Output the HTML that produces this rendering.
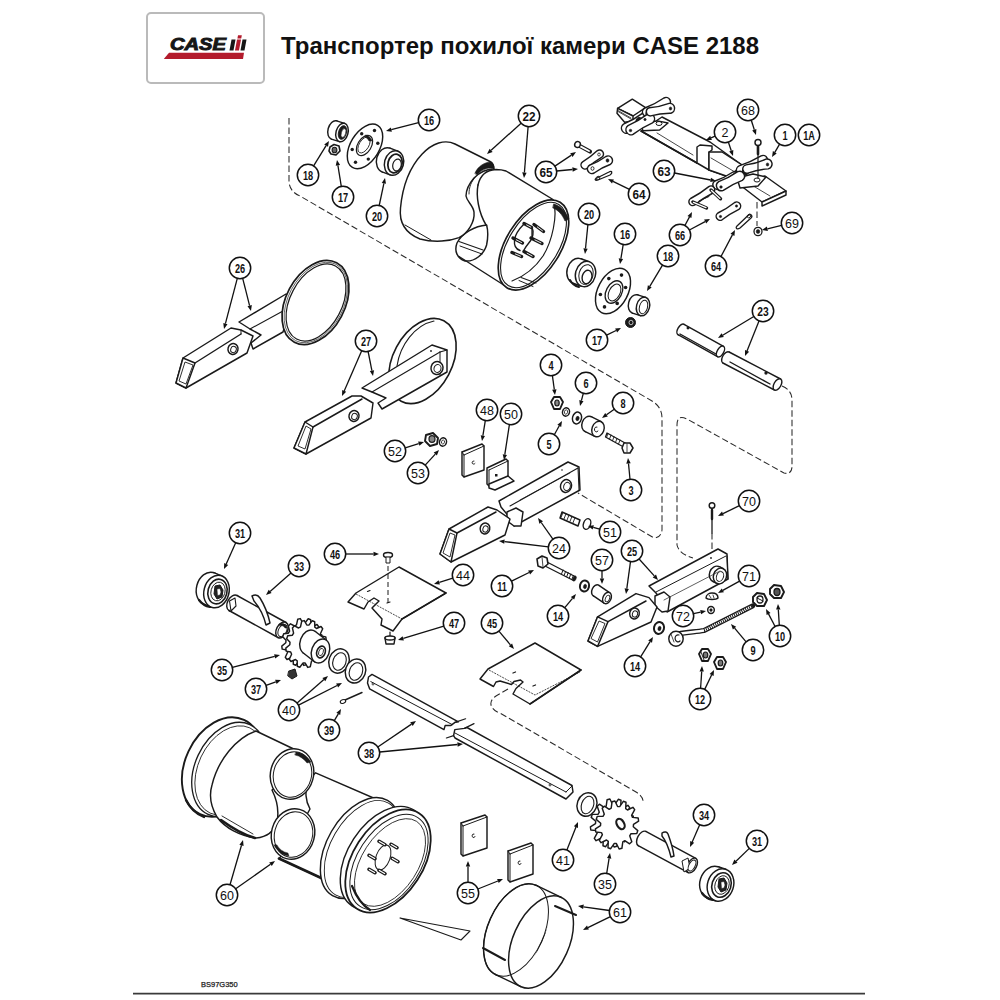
<!DOCTYPE html>
<html><head><meta charset="utf-8"><style>
html,body{margin:0;padding:0;background:#fff;}
body{width:1000px;height:1000px;position:relative;overflow:hidden;font-family:"Liberation Sans",sans-serif;}
.logo{position:absolute;left:146px;top:12px;width:114.5px;height:67.5px;border:2px solid #bababa;border-radius:5px;background:#fff;}
svg{position:absolute;left:0;top:0;}
.lbl text{font-family:"Liberation Sans",sans-serif;text-anchor:middle;}
.lbl .r{font-size:12.5px;font-weight:normal;}
.lbl .b{font-size:13.5px;font-weight:bold;}
.lbl .w{font-size:12.8px;font-weight:bold;}
.lbl .c{font-size:13.5px;font-weight:bold;}
</style></head><body>
<div class="logo"></div>
<svg width="1000" height="1000" viewBox="0 0 1000 1000">
<text id="title" x="281" y="53.5" font-family="Liberation Sans" font-weight="bold" font-size="24" fill="#111" textLength="478" lengthAdjust="spacingAndGlyphs">Транспортер похилої камери CASE 2188</text>
<g id="logo">
<text x="170" y="50.4" font-family="Liberation Sans" font-weight="bold" font-style="italic" font-size="16" fill="#161616" stroke="#161616" stroke-width="0.9" textLength="56" lengthAdjust="spacingAndGlyphs">CASE</text>
<polygon points="169,52.8 244,52.8 243,59 163.8,59" fill="#b31b2c"/>
<polygon points="231.5,39.5 235.5,39.5 233.5,50.4 229.5,50.4" fill="#161616"/>
<polygon points="237,39.5 241,39.5 239,50.4 235,50.4" fill="#b31b2c"/>
<polygon points="238,35.2 241.8,35.2 241.2,38.6 237.4,38.6" fill="#b31b2c"/>
<polygon points="242.5,39.5 246.5,39.5 244.5,50.4 240.5,50.4" fill="#161616"/>
</g>
<g fill="none" stroke="#2a2a2a" stroke-width="1.05" stroke-dasharray="6.5 3">
<path d="M289,118 L289,182 Q290,192 300,196 L652,401 Q662,407 662,418 L662,530 Q661,538 654,538 L578,493"/>
<path d="M782,386 Q792,390 792,400 L792,466 Q792,475 784,473 L687,419 Q677,414 677,425 L677,545 Q679,554 693,558"/>
<path d="M508,689 L496,696 Q490,700 491,705 Q493,711 500,713 L636,792 Q644,797 643,803"/>
<path d="M757,202 L757,226"/>
<path d="M712,533 L712,556"/>
</g>
<ellipse cx="334.0" cy="130.0" rx="6.0" ry="9.5" transform="rotate(15 334.0 130.0)" fill="#fff" stroke="#1a1a1a" stroke-width="1.45" /><polygon points="336.6,120.9 344.6,123.4 339.4,141.6 331.4,139.1" fill="#fff" stroke="none"/><line x1="336.6" y1="120.9" x2="344.6" y2="123.4" stroke="#1a1a1a" stroke-width="1.45" stroke-linecap="round"/><line x1="331.4" y1="139.1" x2="339.4" y2="141.6" stroke="#1a1a1a" stroke-width="1.45" stroke-linecap="round"/><ellipse cx="342.0" cy="132.5" rx="6.0" ry="9.5" transform="rotate(15 342.0 132.5)" fill="#fff" stroke="#1a1a1a" stroke-width="1.45" />
<ellipse cx="342.5" cy="132.5" rx="4.0" ry="7.0" transform="rotate(15 342.5 132.5)" fill="#1a1a1a" stroke="#1a1a1a" stroke-width="0.8" />
<ellipse cx="343.5" cy="133.0" rx="2.2" ry="4.5" transform="rotate(15 343.5 133.0)" fill="#fff" stroke="#1a1a1a" stroke-width="0.6" />
<polygon points="330.0,147.0 334.0,144.5 339.0,146.0 340.0,151.0 336.0,155.0 331.0,154.0 329.0,151.0" fill="#fff" stroke="#1a1a1a" stroke-width="1.6" stroke-linejoin="round"/>
<ellipse cx="334.5" cy="150.0" rx="2.4" ry="2.8" transform="rotate(0 334.5 150.0)" fill="#666" stroke="#1a1a1a" stroke-width="1.1" />
<ellipse cx="365.0" cy="146.4" rx="14.5" ry="24.5" transform="rotate(31 365.0 146.4)" fill="#fff" stroke="#1a1a1a" stroke-width="1.45" />
<ellipse cx="364.5" cy="145.5" rx="6.8" ry="11.0" transform="rotate(31 364.5 145.5)" fill="#fff" stroke="#1a1a1a" stroke-width="1.2" />
<ellipse cx="364.0" cy="145.0" rx="4.8" ry="8.8" transform="rotate(31 364.0 145.0)" fill="none" stroke="#1a1a1a" stroke-width="0.8" />
<path d="M366,135 C369,136 371,138 372,141 L369,141 C368,139 367,138 365,137 Z" fill="#1a1a1a" stroke="#1a1a1a" stroke-width="0.5" stroke-linejoin="round" stroke-linecap="round" />
<circle cx="355.5" cy="162.3" r="1.7" fill="#1a1a1a"/>
<circle cx="352.2" cy="149.5" r="1.7" fill="#1a1a1a"/>
<circle cx="361.7" cy="133.7" r="1.7" fill="#1a1a1a"/>
<circle cx="374.5" cy="130.5" r="1.7" fill="#1a1a1a"/>
<circle cx="377.8" cy="143.3" r="1.7" fill="#1a1a1a"/>
<circle cx="368.3" cy="159.1" r="1.7" fill="#1a1a1a"/>
<ellipse cx="386.0" cy="160.0" rx="9.5" ry="12.5" transform="rotate(15 386.0 160.0)" fill="#fff" stroke="#1a1a1a" stroke-width="1.45" /><polygon points="389.9,148.1 397.9,151.1 390.1,174.9 382.1,171.9" fill="#fff" stroke="none"/><line x1="389.9" y1="148.1" x2="397.9" y2="151.1" stroke="#1a1a1a" stroke-width="1.45" stroke-linecap="round"/><line x1="382.1" y1="171.9" x2="390.1" y2="174.9" stroke="#1a1a1a" stroke-width="1.45" stroke-linecap="round"/><ellipse cx="394.0" cy="163.0" rx="9.5" ry="12.5" transform="rotate(15 394.0 163.0)" fill="#fff" stroke="#1a1a1a" stroke-width="1.45" />
<ellipse cx="395.0" cy="163.5" rx="7.0" ry="9.5" transform="rotate(15 395.0 163.5)" fill="none" stroke="#1a1a1a" stroke-width="1.8" />
<ellipse cx="397.0" cy="165.0" rx="4.2" ry="6.0" transform="rotate(15 397.0 165.0)" fill="#fff" stroke="#1a1a1a" stroke-width="1.2" />
<path d="M496,169.5 L553,200.5 L572,232 L556,270 L510,289 L459,256.5 L457,242 L470,231 L486.6,225 L481,214 L477,198 L478,185 C480,176 486,170 496,169.5 Z" fill="#fff" stroke="#1a1a1a" stroke-width="0" stroke-linejoin="round" stroke-linecap="round" />
<path d="M478,185 C480,176 486,170 496,169.5 C500,169.5 503,170 506,171 L553,199.5" fill="none" stroke="#1a1a1a" stroke-width="1.45" stroke-linejoin="round" stroke-linecap="round" />
<path d="M478,185 C476,195 478,212 486.6,226" fill="none" stroke="#1a1a1a" stroke-width="1.45" stroke-linejoin="round" stroke-linecap="round" />
<path d="M486.6,225 C475,226 462,233 457,243 C454,251 457,258 465,261 C475,262 484,254 486.6,245 C488,238 488,230 486.6,225 Z" fill="#fff" stroke="#1a1a1a" stroke-width="1.45" stroke-linejoin="round" stroke-linecap="round" />
<line x1="459.0" y1="241.5" x2="483.0" y2="250.0" stroke="#1a1a1a" stroke-width="1.1" stroke-linecap="round"/>
<line x1="460.0" y1="246.0" x2="482.0" y2="254.0" stroke="#1a1a1a" stroke-width="1.0" stroke-linecap="round"/>
<line x1="459.0" y1="256.5" x2="510.0" y2="289.0" stroke="#1a1a1a" stroke-width="1.45" stroke-linecap="round"/>
<ellipse cx="533.5" cy="245.0" rx="27.2" ry="50.3" transform="rotate(32 533.5 245.0)" fill="#fff" stroke="#1a1a1a" stroke-width="1.7" />
<ellipse cx="533.5" cy="245.0" rx="24.8" ry="47.8" transform="rotate(32 533.5 245.0)" fill="#fff" stroke="#1a1a1a" stroke-width="1.1" />
<path d="M554,204 C561,206 566,212 569,219 L565,221 C562,214 558,210 553,208 Z" fill="#1a1a1a" stroke="#1a1a1a" stroke-width="0.6" stroke-linejoin="round" stroke-linecap="round" />
<path d="M554,205 C557,215 553,240 543,256 C535,268 525,276 512,281" fill="none" stroke="#1a1a1a" stroke-width="1.2" stroke-linejoin="round" stroke-linecap="round" />
<line x1="521.0" y1="277.5" x2="536.0" y2="283.0" stroke="#1a1a1a" stroke-width="1.1" stroke-linecap="round"/>
<line x1="519.0" y1="280.5" x2="533.0" y2="286.5" stroke="#1a1a1a" stroke-width="1.0" stroke-linecap="round"/>
<path d="M524,224 C519,229 515,235 514.5,240 C514,245 515,249 520,250.5 M532,227 C534,232 533,238 530,241.5 C528,244 526,246 524,250" fill="none" stroke="#1a1a1a" stroke-width="1.4" stroke-linejoin="round" stroke-linecap="round" />
<line x1="524" y1="223.5" x2="531.5" y2="227.5" stroke="#1a1a1a" stroke-width="3.4" stroke-linecap="round"/>
<line x1="526.6" y1="224.9" x2="530.8" y2="227.1" stroke="#fff" stroke-width="0.9" stroke-linecap="round"/>
<line x1="534" y1="224.5" x2="543.5" y2="231.5" stroke="#1a1a1a" stroke-width="3.4" stroke-linecap="round"/>
<line x1="537.3" y1="226.9" x2="542.5" y2="230.8" stroke="#fff" stroke-width="0.9" stroke-linecap="round"/>
<line x1="513" y1="238" x2="522.5" y2="243" stroke="#1a1a1a" stroke-width="3.4" stroke-linecap="round"/>
<line x1="516.3" y1="239.8" x2="521.5" y2="242.5" stroke="#fff" stroke-width="0.9" stroke-linecap="round"/>
<line x1="531" y1="238" x2="542" y2="243.5" stroke="#1a1a1a" stroke-width="3.4" stroke-linecap="round"/>
<line x1="534.9" y1="239.9" x2="540.9" y2="242.9" stroke="#fff" stroke-width="0.9" stroke-linecap="round"/>
<line x1="512" y1="252.5" x2="521.5" y2="256.5" stroke="#1a1a1a" stroke-width="3.4" stroke-linecap="round"/>
<line x1="515.3" y1="253.9" x2="520.5" y2="256.1" stroke="#fff" stroke-width="0.9" stroke-linecap="round"/>
<line x1="524" y1="251.5" x2="533" y2="256.5" stroke="#1a1a1a" stroke-width="3.4" stroke-linecap="round"/>
<line x1="527.1" y1="253.2" x2="532.1" y2="256.0" stroke="#fff" stroke-width="0.9" stroke-linecap="round"/>
<line x1="532.0" y1="228.0" x2="532.0" y2="238.0" stroke="#1a1a1a" stroke-width="1.3" stroke-linecap="round"/>
<path d="M455,144 L490,161.5 C493,163 494,166 494,169 C488,169 480,172 474,178 C468,185 466,190 466,196 C467,202 473,205 474,212 C475,222 468,233 459,237.6 C450,241 435,243 420,239 C405,233 399,222 400.5,208 C405,160 435,134 455,144 Z" fill="#fff" stroke="#1a1a1a" stroke-width="1.45" stroke-linejoin="round" stroke-linecap="round" />
<path d="M475,173 C478,166 485,162 491,162 C493,163 494,166 494,169 C490,167 483,168 477,175 Z" fill="#1a1a1a" stroke="#1a1a1a" stroke-width="0.6" stroke-linejoin="round" stroke-linecap="round" />
<path d="M476,176 C471,182 469,187 469,194" fill="none" stroke="#1a1a1a" stroke-width="0.9" stroke-linejoin="round" stroke-linecap="round" />
<line x1="405.0" y1="225.0" x2="431.0" y2="240.0" stroke="#1a1a1a" stroke-width="1.0" stroke-linecap="round"/>
<polygon points="641.0,131.0 662.0,117.0 710.0,142.0 742.0,165.0 729.0,177.0 709.0,170.0 709.0,166.0 697.0,163.0" fill="#fff" stroke="#1a1a1a" stroke-width="1.45" stroke-linejoin="round"/>
<line x1="697.0" y1="163.0" x2="641.0" y2="131.0" stroke="#1a1a1a" stroke-width="1.45" stroke-linecap="round"/>
<polygon points="697.0,163.0 697.0,147.0 700.0,145.0 712.0,146.0 712.0,150.0 709.0,152.0 709.0,170.0" fill="#fff" stroke="#1a1a1a" stroke-width="1.45" stroke-linejoin="round"/>
<polygon points="709.0,152.0 722.0,152.0 742.0,165.0 729.0,177.0 709.0,170.0" fill="#fff" stroke="#1a1a1a" stroke-width="1.45" stroke-linejoin="round"/>
<line x1="657.0" y1="133.0" x2="693.0" y2="155.0" stroke="#1a1a1a" stroke-width="0.8" stroke-linecap="round"/>
<line x1="711.0" y1="158.0" x2="735.0" y2="172.0" stroke="#1a1a1a" stroke-width="0.8" stroke-linecap="round"/>
<polygon points="617.6,108.3 632.3,99.2 645.6,107.6 633.0,116.0" fill="#fff" stroke="#1a1a1a" stroke-width="1.45" stroke-linejoin="round"/>
<polygon points="617.6,108.3 633.0,116.0 633.0,121.0 624.6,122.3 617.0,113.2" fill="#fff" stroke="#1a1a1a" stroke-width="1.45" stroke-linejoin="round"/>
<line x1="618.0" y1="110.5" x2="631.0" y2="118.0" stroke="#1a1a1a" stroke-width="0.8" stroke-linecap="round"/>
<line x1="618.0" y1="111.5" x2="631.0" y2="119.0" stroke="#1a1a1a" stroke-width="0.8" stroke-linecap="round"/>
<path d="M628.5,132.8 Q637.8,125.9 648.5,121.3 A5,5 0 0 0 643.5,112.7 Q634.2,119.6 623.5,124.2 A5,5 0 0 0 628.5,132.8 Z" fill="#fff" stroke="#1a1a1a" stroke-width="1.45" stroke-linejoin="round" stroke-linecap="round" />
<path d="M649.1,116.0 Q658.0,109.9 668.1,106.0 A4.5,4.5 0 0 0 663.9,98.0 Q655.0,104.1 644.9,108.0 A4.5,4.5 0 0 0 649.1,116.0 Z" fill="#fff" stroke="#1a1a1a" stroke-width="1.45" stroke-linejoin="round" stroke-linecap="round" />
<ellipse cx="649.5" cy="113.0" rx="3.5" ry="4.0" transform="rotate(20 649.5 113.0)" fill="#1a1a1a" stroke="#1a1a1a" stroke-width="1" />
<ellipse cx="639.0" cy="121.0" rx="3.0" ry="3.5" transform="rotate(20 639.0 121.0)" fill="#1a1a1a" stroke="#1a1a1a" stroke-width="1" />
<polygon points="641.4,124.4 657.5,120.9 668.0,123.0 659.6,130.0 642.8,130.7" fill="#fff" stroke="#1a1a1a" stroke-width="1.45" stroke-linejoin="round"/>
<ellipse cx="659.0" cy="123.5" rx="3.0" ry="2.0" transform="rotate(0 659.0 123.5)" fill="none" stroke="#1a1a1a" stroke-width="1.0" />
<path d="M633.0,134.3 Q642.1,127.4 652.5,122.8 A5,5 0 0 0 647.5,114.2 Q638.4,121.1 628.0,125.7 A5,5 0 0 0 633.0,134.3 Z" fill="#fff" stroke="#1a1a1a" stroke-width="1.45" stroke-linejoin="round" stroke-linecap="round" />
<path d="M650.7,115.9 Q660.5,113.0 670.9,113.2 A5,5 0 0 0 669.1,103.4 Q659.5,107.1 649.3,107.7 A4.2,4.2 0 0 0 650.7,115.9 Z" fill="#fff" stroke="#1a1a1a" stroke-width="1.45" stroke-linejoin="round" stroke-linecap="round" />
<ellipse cx="630.5" cy="130.5" rx="1.3" ry="1.3" transform="rotate(0 630.5 130.5)" fill="#1a1a1a" stroke="#1a1a1a" stroke-width="0.5" />
<ellipse cx="670.5" cy="108.5" rx="1.3" ry="1.6" transform="rotate(0 670.5 108.5)" fill="#1a1a1a" stroke="#1a1a1a" stroke-width="0.5" />
<ellipse cx="645.0" cy="119.5" rx="1.2" ry="1.2" transform="rotate(0 645.0 119.5)" fill="#1a1a1a" stroke="#1a1a1a" stroke-width="0.5" />
<polygon points="740.0,185.0 765.0,176.0 786.0,191.0 762.0,202.0" fill="#fff" stroke="#1a1a1a" stroke-width="1.45" stroke-linejoin="round"/>
<polygon points="762.0,202.0 786.0,191.0 786.0,195.0 762.0,206.0" fill="#fff" stroke="#1a1a1a" stroke-width="1.45" stroke-linejoin="round"/>
<line x1="750.0" y1="184.0" x2="770.0" y2="196.0" stroke="#1a1a1a" stroke-width="0.8" stroke-linecap="round"/>
<path d="M719.0,189.0 Q727.4,183.4 737.0,180.0 A4.5,4.5 0 0 0 733.0,172.0 Q724.6,177.6 715.0,181.0 A4.5,4.5 0 0 0 719.0,189.0 Z" fill="#fff" stroke="#1a1a1a" stroke-width="1.45" stroke-linejoin="round" stroke-linecap="round" />
<path d="M742.9,174.1 Q753.3,167.9 764.9,164.1 A4.5,4.5 0 0 0 761.1,155.9 Q750.7,162.1 739.1,165.9 A4.5,4.5 0 0 0 742.9,174.1 Z" fill="#fff" stroke="#1a1a1a" stroke-width="1.45" stroke-linejoin="round" stroke-linecap="round" />
<ellipse cx="746.0" cy="170.5" rx="3.5" ry="4.0" transform="rotate(20 746.0 170.5)" fill="#1a1a1a" stroke="#1a1a1a" stroke-width="1" />
<ellipse cx="736.0" cy="176.0" rx="3.0" ry="3.5" transform="rotate(20 736.0 176.0)" fill="#1a1a1a" stroke="#1a1a1a" stroke-width="1" />
<polygon points="737.0,178.0 753.0,174.0 766.0,177.0 758.0,186.0 740.0,188.0" fill="#fff" stroke="#1a1a1a" stroke-width="1.45" stroke-linejoin="round"/>
<ellipse cx="757.0" cy="180.0" rx="3.0" ry="2.0" transform="rotate(0 757.0 180.0)" fill="none" stroke="#1a1a1a" stroke-width="1.0" />
<path d="M723.3,190.4 Q732.2,184.2 742.3,180.4 A5,5 0 0 0 737.7,171.6 Q728.8,177.8 718.7,181.6 A5,5 0 0 0 723.3,190.4 Z" fill="#fff" stroke="#1a1a1a" stroke-width="1.45" stroke-linejoin="round" stroke-linecap="round" />
<path d="M748.0,173.1 Q757.7,169.4 768.2,168.9 A5,5 0 0 0 765.8,159.1 Q756.3,163.6 746.0,164.9 A4.2,4.2 0 0 0 748.0,173.1 Z" fill="#fff" stroke="#1a1a1a" stroke-width="1.45" stroke-linejoin="round" stroke-linecap="round" />
<ellipse cx="721.0" cy="187.0" rx="1.3" ry="1.3" transform="rotate(0 721.0 187.0)" fill="#1a1a1a" stroke="#1a1a1a" stroke-width="0.5" />
<ellipse cx="767.5" cy="164.5" rx="1.3" ry="1.6" transform="rotate(0 767.5 164.5)" fill="#1a1a1a" stroke="#1a1a1a" stroke-width="0.5" />
<line x1="758.0" y1="146.0" x2="758.0" y2="178.0" stroke="#1a1a1a" stroke-width="1.2" stroke-linecap="round"/>
<line x1="758.0" y1="146.0" x2="758.0" y2="154.0" stroke="#1a1a1a" stroke-width="2.6" stroke-linecap="round"/>
<ellipse cx="758.0" cy="142.5" rx="3.0" ry="3.0" transform="rotate(0 758.0 142.5)" fill="#fff" stroke="#1a1a1a" stroke-width="1.45" />
<ellipse cx="758.0" cy="231.5" rx="4.0" ry="4.2" transform="rotate(0 758.0 231.5)" fill="#fff" stroke="#1a1a1a" stroke-width="1.3" />
<ellipse cx="758.0" cy="231.5" rx="1.8" ry="2.0" transform="rotate(0 758.0 231.5)" fill="#1a1a1a" stroke="#1a1a1a" stroke-width="0.5" />
<line x1="578.0" y1="145.0" x2="590.0" y2="151.5" stroke="#1a1a1a" stroke-width="4.2" stroke-linecap="round"/>
<line x1="579.0" y1="145.6" x2="589.0" y2="151.0" stroke="#fff" stroke-width="1.8" stroke-linecap="round"/>
<ellipse cx="577.5" cy="144.5" rx="2.8" ry="3.0" transform="rotate(20 577.5 144.5)" fill="#fff" stroke="#1a1a1a" stroke-width="1.45" />
<path d="M587.4,168.2 Q594.0,161.8 601.9,157.2 A4,4 0 0 0 597.1,150.8 Q590.5,157.2 582.6,161.8 A4,4 0 0 0 587.4,168.2 Z" fill="#fff" stroke="#1a1a1a" stroke-width="1.45" stroke-linejoin="round" stroke-linecap="round" />
<path d="M594.1,173.0 Q601.5,167.6 610.1,164.5 A4.5,4.5 0 0 0 605.9,156.5 Q598.5,161.9 589.9,165.0 A4.5,4.5 0 0 0 594.1,173.0 Z" fill="#fff" stroke="#1a1a1a" stroke-width="1.45" stroke-linejoin="round" stroke-linecap="round" />
<ellipse cx="592.5" cy="168.5" rx="1.5" ry="1.8" transform="rotate(0 592.5 168.5)" fill="none" stroke="#1a1a1a" stroke-width="0.9" />
<ellipse cx="607.5" cy="160.5" rx="1.5" ry="1.8" transform="rotate(0 607.5 160.5)" fill="#1a1a1a" stroke="#1a1a1a" stroke-width="0.5" />
<ellipse cx="599.0" cy="154.5" rx="1.3" ry="1.5" transform="rotate(0 599.0 154.5)" fill="none" stroke="#1a1a1a" stroke-width="0.8" />
<path d="M597,178 L609,172 C612,170 613,173 610,175 L598,180 C595,181 594,179 597,178 Z" fill="#fff" stroke="#1a1a1a" stroke-width="1.3" stroke-linejoin="round" stroke-linecap="round" />
<ellipse cx="598.0" cy="178.0" rx="2.0" ry="1.6" transform="rotate(-25 598.0 178.0)" fill="none" stroke="#1a1a1a" stroke-width="0.9" />
<path d="M694.8,204.9 Q703.3,198.0 713.0,193.0 A3.8,3.8 0 0 0 708.8,186.6 Q700.3,193.5 690.6,198.5 A3.8,3.8 0 0 0 694.8,204.9 Z" fill="#fff" stroke="#1a1a1a" stroke-width="1.45" stroke-linejoin="round" stroke-linecap="round" />
<line x1="693.0" y1="202.0" x2="706.5" y2="208.0" stroke="#1a1a1a" stroke-width="3.4" stroke-linecap="round"/>
<line x1="693.5" y1="202.3" x2="706.0" y2="207.6" stroke="#fff" stroke-width="1.3" stroke-linecap="round"/>
<line x1="711.0" y1="190.0" x2="720.5" y2="198.8" stroke="#1a1a1a" stroke-width="3.4" stroke-linecap="round"/>
<line x1="711.5" y1="190.5" x2="720.0" y2="198.4" stroke="#fff" stroke-width="1.3" stroke-linecap="round"/>
<line x1="699.0" y1="201.0" x2="709.0" y2="196.5" stroke="#1a1a1a" stroke-width="1.0" stroke-linecap="round"/>
<path d="M722.1,219.8 Q729.9,213.6 738.9,209.3 A4,4 0 0 0 734.7,202.5 Q726.9,208.7 717.9,213.0 A4,4 0 0 0 722.1,219.8 Z" fill="#fff" stroke="#1a1a1a" stroke-width="1.45" stroke-linejoin="round" stroke-linecap="round" />
<ellipse cx="720.5" cy="216.5" rx="1.2" ry="1.2" transform="rotate(0 720.5 216.5)" fill="#1a1a1a" stroke="#1a1a1a" stroke-width="0.4" />
<ellipse cx="736.5" cy="206.0" rx="1.2" ry="1.2" transform="rotate(0 736.5 206.0)" fill="#1a1a1a" stroke="#1a1a1a" stroke-width="0.4" />
<path d="M737,226 L748,215.5 C751,213 753,216 751,218 L740,228 C737,230 735,228 737,226 Z" fill="#fff" stroke="#1a1a1a" stroke-width="1.3" stroke-linejoin="round" stroke-linecap="round" />
<ellipse cx="749.0" cy="216.0" rx="2.0" ry="1.6" transform="rotate(-40 749.0 216.0)" fill="none" stroke="#1a1a1a" stroke-width="0.9" />
<polygon points="239.0,322.0 286.0,294.0 292.0,302.0 283.0,332.0 253.0,349.0 251.0,343.0 261.0,335.0 250.0,329.0" fill="#fff" stroke="#1a1a1a" stroke-width="1.45" stroke-linejoin="round"/>
<line x1="250.0" y1="329.0" x2="283.0" y2="311.0" stroke="#1a1a1a" stroke-width="1.1" stroke-linecap="round"/>
<ellipse cx="315.5" cy="302.5" rx="29.4" ry="45.0" transform="rotate(28 315.5 302.5)" fill="#fff" stroke="#1a1a1a" stroke-width="1.7" />
<ellipse cx="316.0" cy="302.5" rx="25.8" ry="41.4" transform="rotate(28 316.0 302.5)" fill="#fff" stroke="#1a1a1a" stroke-width="1.2" />
<ellipse cx="315.8" cy="302.5" rx="27.6" ry="43.2" transform="rotate(28 315.8 302.5)" fill="none" stroke="#1a1a1a" stroke-width="0.6" />
<polygon points="183.0,358.0 231.0,328.0 241.0,330.0 253.0,336.0 247.0,353.0 186.0,388.0 176.0,383.0" fill="#fff" stroke="#1a1a1a" stroke-width="1.45" stroke-linejoin="round"/>
<polygon points="183.0,358.0 195.0,363.0 186.0,388.0 176.0,383.0" fill="#fff" stroke="#1a1a1a" stroke-width="1.45" stroke-linejoin="round"/>
<polygon points="185.0,362.0 193.0,365.0 186.0,384.0 179.0,381.0" fill="#fff" stroke="#1a1a1a" stroke-width="0.9" stroke-linejoin="round"/>
<line x1="195.0" y1="363.0" x2="241.0" y2="334.0" stroke="#1a1a1a" stroke-width="1.45" stroke-linecap="round"/>
<line x1="241.0" y1="330.0" x2="241.0" y2="334.0" stroke="#1a1a1a" stroke-width="1.0" stroke-linecap="round"/>
<ellipse cx="233.0" cy="349.0" rx="5.0" ry="5.5" transform="rotate(15 233.0 349.0)" fill="#fff" stroke="#1a1a1a" stroke-width="1.45" />
<ellipse cx="233.5" cy="349.5" rx="2.8" ry="3.2" transform="rotate(15 233.5 349.5)" fill="#fff" stroke="#1a1a1a" stroke-width="1.0" />
<ellipse cx="422.5" cy="361.0" rx="29.5" ry="45.5" transform="rotate(28 422.5 361.0)" fill="#fff" stroke="#1a1a1a" stroke-width="1.6" />
<path d="M397,366 C400,345 415,325 434,321" fill="none" stroke="#1a1a1a" stroke-width="1.1" stroke-linejoin="round" stroke-linecap="round" />
<polygon points="362.0,388.0 432.0,345.0 447.0,350.0 447.0,372.0 382.0,409.0 378.0,403.0 386.0,398.0 372.0,392.0" fill="#fff" stroke="#1a1a1a" stroke-width="1.45" stroke-linejoin="round"/>
<line x1="372.0" y1="392.0" x2="440.0" y2="352.0" stroke="#1a1a1a" stroke-width="1.1" stroke-linecap="round"/>
<line x1="440.0" y1="352.0" x2="447.0" y2="350.0" stroke="#1a1a1a" stroke-width="1.1" stroke-linecap="round"/>
<line x1="440.0" y1="352.0" x2="440.0" y2="375.0" stroke="#1a1a1a" stroke-width="1.0" stroke-linecap="round"/>
<ellipse cx="437.0" cy="368.0" rx="6.0" ry="6.5" transform="rotate(15 437.0 368.0)" fill="#fff" stroke="#1a1a1a" stroke-width="1.45" />
<ellipse cx="437.5" cy="368.5" rx="3.5" ry="4.0" transform="rotate(15 437.5 368.5)" fill="#fff" stroke="#1a1a1a" stroke-width="1.0" />
<circle cx="431" cy="351" r="0.9" fill="#1a1a1a"/>
<polygon points="305.0,422.0 352.0,396.0 361.0,396.0 373.0,403.0 371.0,418.0 306.0,454.0 294.0,448.0" fill="#fff" stroke="#1a1a1a" stroke-width="1.45" stroke-linejoin="round"/>
<polygon points="305.0,422.0 313.0,427.0 306.0,454.0 294.0,448.0" fill="#fff" stroke="#1a1a1a" stroke-width="1.45" stroke-linejoin="round"/>
<polygon points="306.0,426.0 311.0,429.0 305.0,449.0 298.0,446.0" fill="#fff" stroke="#1a1a1a" stroke-width="0.9" stroke-linejoin="round"/>
<line x1="313.0" y1="427.0" x2="362.0" y2="399.0" stroke="#1a1a1a" stroke-width="1.45" stroke-linecap="round"/>
<ellipse cx="354.0" cy="416.0" rx="5.0" ry="5.5" transform="rotate(15 354.0 416.0)" fill="#fff" stroke="#1a1a1a" stroke-width="1.45" />
<ellipse cx="354.5" cy="416.5" rx="2.8" ry="3.2" transform="rotate(15 354.5 416.5)" fill="#fff" stroke="#1a1a1a" stroke-width="1.0" />
<polygon points="426.0,435.0 433.0,433.0 438.0,438.0 437.0,444.0 430.0,446.0 425.0,441.0" fill="#fff" stroke="#1a1a1a" stroke-width="1.9" stroke-linejoin="round"/>
<ellipse cx="432.0" cy="439.0" rx="3.0" ry="3.3" transform="rotate(0 432.0 439.0)" fill="#888" stroke="#1a1a1a" stroke-width="1.2" />
<ellipse cx="443.0" cy="442.0" rx="3.5" ry="4.2" transform="rotate(15 443.0 442.0)" fill="#fff" stroke="#1a1a1a" stroke-width="1.45" />
<ellipse cx="443.0" cy="442.0" rx="1.5" ry="2.0" transform="rotate(15 443.0 442.0)" fill="#fff" stroke="#1a1a1a" stroke-width="0.8" />
<polygon points="462.0,452.0 482.0,444.0 484.0,446.0 484.0,470.0 464.0,477.0 462.0,475.0" fill="#fff" stroke="#1a1a1a" stroke-width="1.45" stroke-linejoin="round"/>
<line x1="462.0" y1="452.0" x2="464.0" y2="455.0" stroke="#1a1a1a" stroke-width="1.0" stroke-linecap="round"/>
<line x1="464.0" y1="455.0" x2="484.0" y2="446.0" stroke="#1a1a1a" stroke-width="1.0" stroke-linecap="round"/>
<line x1="464.0" y1="455.0" x2="464.0" y2="477.0" stroke="#1a1a1a" stroke-width="1.0" stroke-linecap="round"/>
<path d="M474,461 a1.6,1.6 0 1 0 1,2.5" fill="none" stroke="#1a1a1a" stroke-width="0.9" stroke-linejoin="round" stroke-linecap="round" />
<polygon points="487.0,468.0 506.0,459.0 508.0,461.0 508.0,480.0 496.0,487.0 489.0,486.0 487.0,484.0" fill="#fff" stroke="#1a1a1a" stroke-width="1.45" stroke-linejoin="round"/>
<line x1="489.0" y1="470.0" x2="508.0" y2="461.0" stroke="#1a1a1a" stroke-width="1.0" stroke-linecap="round"/>
<line x1="489.0" y1="470.0" x2="489.0" y2="486.0" stroke="#1a1a1a" stroke-width="1.0" stroke-linecap="round"/>
<polygon points="489.0,484.0 508.0,476.0 514.0,481.0 495.0,490.0 489.0,488.0" fill="#fff" stroke="#1a1a1a" stroke-width="1.45" stroke-linejoin="round"/>
<rect x="495" y="474" width="2.5" height="2.5" fill="#1a1a1a"/>
<polygon points="551.0,402.0 554.0,397.0 560.0,397.0 563.0,402.0 560.0,409.0 554.0,409.0" fill="#fff" stroke="#1a1a1a" stroke-width="1.9" stroke-linejoin="round"/>
<ellipse cx="557.0" cy="403.0" rx="2.2" ry="3.0" transform="rotate(0 557.0 403.0)" fill="#888" stroke="#1a1a1a" stroke-width="1.2" />
<ellipse cx="566.0" cy="412.0" rx="3.5" ry="4.2" transform="rotate(15 566.0 412.0)" fill="#fff" stroke="#1a1a1a" stroke-width="1.45" />
<ellipse cx="566.0" cy="412.0" rx="1.6" ry="2.2" transform="rotate(15 566.0 412.0)" fill="#fff" stroke="#1a1a1a" stroke-width="0.8" />
<ellipse cx="577.0" cy="418.0" rx="4.5" ry="6.0" transform="rotate(15 577.0 418.0)" fill="#fff" stroke="#1a1a1a" stroke-width="1.45" />
<ellipse cx="577.5" cy="418.5" rx="1.6" ry="2.2" transform="rotate(15 577.5 418.5)" fill="#1a1a1a" stroke="#1a1a1a" stroke-width="0.6" />
<ellipse cx="588.0" cy="424.0" rx="6.0" ry="8.0" transform="rotate(20 588.0 424.0)" fill="#fff" stroke="#1a1a1a" stroke-width="1.45" /><polygon points="591.2,416.7 601.2,421.7 594.8,436.3 584.8,431.3" fill="#fff" stroke="none"/><line x1="591.2" y1="416.7" x2="601.2" y2="421.7" stroke="#1a1a1a" stroke-width="1.45" stroke-linecap="round"/><line x1="584.8" y1="431.3" x2="594.8" y2="436.3" stroke="#1a1a1a" stroke-width="1.45" stroke-linecap="round"/><ellipse cx="598.0" cy="429.0" rx="6.0" ry="8.0" transform="rotate(20 598.0 429.0)" fill="#fff" stroke="#1a1a1a" stroke-width="1.45" />
<path d="M597,427 a2,2.5 0 1 0 1,4" fill="none" stroke="#1a1a1a" stroke-width="1.0" stroke-linejoin="round" stroke-linecap="round" />
<polygon points="607.0,433.0 626.0,443.5 624.5,447.5 605.5,437.0" fill="#fff" stroke="#1a1a1a" stroke-width="1.3" stroke-linejoin="round"/>
<line x1="608.0" y1="433.5" x2="606.5" y2="437.5" stroke="#1a1a1a" stroke-width="0.9" stroke-linecap="round"/>
<line x1="611.0" y1="435.1" x2="609.5" y2="439.1" stroke="#1a1a1a" stroke-width="0.9" stroke-linecap="round"/>
<line x1="614.0" y1="436.8" x2="612.5" y2="440.8" stroke="#1a1a1a" stroke-width="0.9" stroke-linecap="round"/>
<line x1="617.0" y1="438.4" x2="615.5" y2="442.4" stroke="#1a1a1a" stroke-width="0.9" stroke-linecap="round"/>
<line x1="620.0" y1="440.1" x2="618.5" y2="444.1" stroke="#1a1a1a" stroke-width="0.9" stroke-linecap="round"/>
<polygon points="624.0,443.0 630.0,443.0 633.0,448.0 630.0,453.0 624.0,453.0 622.0,448.0" fill="#fff" stroke="#1a1a1a" stroke-width="1.5" stroke-linejoin="round"/>
<line x1="627.0" y1="444.0" x2="627.0" y2="452.0" stroke="#1a1a1a" stroke-width="0.8" stroke-linecap="round"/>
<ellipse cx="681.0" cy="329.5" rx="3.2" ry="6.0" transform="rotate(30 681.0 329.5)" fill="#fff" stroke="#1a1a1a" stroke-width="1.45" /><polygon points="684.0,324.3 723.5,346.3 717.5,356.7 678.0,334.7" fill="#fff" stroke="none"/><line x1="684.0" y1="324.3" x2="723.5" y2="346.3" stroke="#1a1a1a" stroke-width="1.45" stroke-linecap="round"/><line x1="678.0" y1="334.7" x2="717.5" y2="356.7" stroke="#1a1a1a" stroke-width="1.45" stroke-linecap="round"/><ellipse cx="720.5" cy="351.5" rx="3.2" ry="6.0" transform="rotate(30 720.5 351.5)" fill="#fff" stroke="#1a1a1a" stroke-width="1.45" />
<line x1="680.0" y1="334.0" x2="716.0" y2="354.0" stroke="#1a1a1a" stroke-width="1.4" stroke-linecap="round"/>
<ellipse cx="688.0" cy="328.0" rx="1.3" ry="1.3" transform="rotate(0 688.0 328.0)" fill="#1a1a1a" stroke="#1a1a1a" stroke-width="0.3" />
<ellipse cx="726.0" cy="357.5" rx="3.5" ry="6.3" transform="rotate(30 726.0 357.5)" fill="#fff" stroke="#1a1a1a" stroke-width="1.45" /><polygon points="729.1,352.0 780.6,379.0 774.4,390.0 722.9,363.0" fill="#fff" stroke="none"/><line x1="729.1" y1="352.0" x2="780.6" y2="379.0" stroke="#1a1a1a" stroke-width="1.45" stroke-linecap="round"/><line x1="722.9" y1="363.0" x2="774.4" y2="390.0" stroke="#1a1a1a" stroke-width="1.45" stroke-linecap="round"/><ellipse cx="777.5" cy="384.5" rx="3.5" ry="6.3" transform="rotate(30 777.5 384.5)" fill="#fff" stroke="#1a1a1a" stroke-width="1.45" />
<line x1="730.0" y1="362.0" x2="770.0" y2="384.0" stroke="#1a1a1a" stroke-width="1.4" stroke-linecap="round"/>
<ellipse cx="766.0" cy="373.0" rx="1.5" ry="1.5" transform="rotate(0 766.0 373.0)" fill="#1a1a1a" stroke="#1a1a1a" stroke-width="0.3" />
<polygon points="499.0,501.0 568.0,462.0 579.0,467.0 580.0,490.0 514.0,526.0 511.0,519.0 501.0,507.0" fill="#fff" stroke="#1a1a1a" stroke-width="1.45" stroke-linejoin="round"/>
<line x1="510.0" y1="506.0" x2="578.0" y2="468.0" stroke="#1a1a1a" stroke-width="1.1" stroke-linecap="round"/>
<line x1="578.0" y1="468.0" x2="579.0" y2="490.0" stroke="#1a1a1a" stroke-width="1.0" stroke-linecap="round"/>
<polygon points="507.0,512.0 516.0,508.0 523.0,512.0 521.0,526.0 514.0,526.0 507.0,521.0" fill="#fff" stroke="#1a1a1a" stroke-width="1.45" stroke-linejoin="round"/>
<ellipse cx="566.0" cy="486.0" rx="5.5" ry="6.5" transform="rotate(15 566.0 486.0)" fill="#fff" stroke="#1a1a1a" stroke-width="1.45" />
<ellipse cx="567.0" cy="486.5" rx="3.3" ry="4.2" transform="rotate(15 567.0 486.5)" fill="#fff" stroke="#1a1a1a" stroke-width="1.0" />
<line x1="520.0" y1="500.0" x2="570.0" y2="473.0" stroke="#1a1a1a" stroke-width="0.7" stroke-linecap="round"/>
<circle cx="562" cy="470" r="0.8" fill="#1a1a1a"/>
<polygon points="449.0,529.0 488.0,507.0 497.0,510.0 510.0,519.0 505.0,535.0 451.0,562.0 440.0,554.0" fill="#fff" stroke="#1a1a1a" stroke-width="1.45" stroke-linejoin="round"/>
<polygon points="449.0,529.0 457.0,533.0 451.0,562.0 440.0,554.0" fill="#fff" stroke="#1a1a1a" stroke-width="1.45" stroke-linejoin="round"/>
<polygon points="450.0,533.0 455.0,535.0 450.0,557.0 443.0,553.0" fill="#fff" stroke="#1a1a1a" stroke-width="0.9" stroke-linejoin="round"/>
<line x1="457.0" y1="533.0" x2="496.0" y2="512.0" stroke="#1a1a1a" stroke-width="1.45" stroke-linecap="round"/>
<ellipse cx="485.0" cy="528.5" rx="4.8" ry="5.5" transform="rotate(15 485.0 528.5)" fill="#fff" stroke="#1a1a1a" stroke-width="1.45" />
<ellipse cx="485.5" cy="529.0" rx="2.6" ry="3.2" transform="rotate(15 485.5 529.0)" fill="#fff" stroke="#1a1a1a" stroke-width="1.0" />
<polygon points="562.0,512.0 580.0,520.0 578.0,526.0 560.0,518.0" fill="#fff" stroke="#1a1a1a" stroke-width="1.45" stroke-linejoin="round"/>
<line x1="563.0" y1="512.5" x2="561.0" y2="517.5" stroke="#1a1a1a" stroke-width="0.9" stroke-linecap="round"/>
<line x1="566.0" y1="513.8" x2="564.0" y2="518.8" stroke="#1a1a1a" stroke-width="0.9" stroke-linecap="round"/>
<line x1="569.0" y1="515.1" x2="567.0" y2="520.1" stroke="#1a1a1a" stroke-width="0.9" stroke-linecap="round"/>
<line x1="572.0" y1="516.4" x2="570.0" y2="521.4" stroke="#1a1a1a" stroke-width="0.9" stroke-linecap="round"/>
<line x1="575.0" y1="517.7" x2="573.0" y2="522.7" stroke="#1a1a1a" stroke-width="0.9" stroke-linecap="round"/>
<ellipse cx="587.0" cy="524.0" rx="3.5" ry="5.5" transform="rotate(20 587.0 524.0)" fill="#fff" stroke="#1a1a1a" stroke-width="1.45" />
<polygon points="545.0,561.0 575.0,576.5 573.5,580.5 543.0,565.0" fill="#fff" stroke="#1a1a1a" stroke-width="1.3" stroke-linejoin="round"/>
<line x1="563.0" y1="570.0" x2="561.5" y2="574.0" stroke="#1a1a1a" stroke-width="1.0" stroke-linecap="round"/>
<line x1="565.6" y1="571.4" x2="564.1" y2="575.4" stroke="#1a1a1a" stroke-width="1.0" stroke-linecap="round"/>
<line x1="568.2" y1="572.7" x2="566.7" y2="576.7" stroke="#1a1a1a" stroke-width="1.0" stroke-linecap="round"/>
<line x1="570.8" y1="574.0" x2="569.3" y2="578.0" stroke="#1a1a1a" stroke-width="1.0" stroke-linecap="round"/>
<line x1="573.4" y1="575.4" x2="571.9" y2="579.4" stroke="#1a1a1a" stroke-width="1.0" stroke-linecap="round"/>
<polygon points="537.0,559.0 542.0,556.0 547.0,558.0 548.0,564.0 543.0,568.0 538.0,566.0" fill="#fff" stroke="#1a1a1a" stroke-width="1.6" stroke-linejoin="round"/>
<line x1="542.0" y1="557.0" x2="543.0" y2="567.0" stroke="#1a1a1a" stroke-width="0.8" stroke-linecap="round"/>
<ellipse cx="574.5" cy="578.5" rx="1.6" ry="2.8" transform="rotate(25 574.5 578.5)" fill="#1a1a1a" stroke="#1a1a1a" stroke-width="0.5" />
<ellipse cx="584.5" cy="586.0" rx="4.5" ry="5.5" transform="rotate(15 584.5 586.0)" fill="#fff" stroke="#1a1a1a" stroke-width="2.0" />
<ellipse cx="585.0" cy="586.5" rx="1.6" ry="2.3" transform="rotate(15 585.0 586.5)" fill="#1a1a1a" stroke="#1a1a1a" stroke-width="0.4" />
<ellipse cx="659.0" cy="628.0" rx="5.0" ry="6.0" transform="rotate(15 659.0 628.0)" fill="#fff" stroke="#1a1a1a" stroke-width="2.0" />
<ellipse cx="659.5" cy="628.5" rx="1.6" ry="2.3" transform="rotate(15 659.5 628.5)" fill="#1a1a1a" stroke="#1a1a1a" stroke-width="0.4" />
<ellipse cx="596.0" cy="590.5" rx="4.0" ry="6.0" transform="rotate(25 596.0 590.5)" fill="#fff" stroke="#1a1a1a" stroke-width="1.45" /><polygon points="598.9,585.3 609.9,592.8 604.1,603.2 593.1,595.7" fill="#fff" stroke="none"/><line x1="598.9" y1="585.3" x2="609.9" y2="592.8" stroke="#1a1a1a" stroke-width="1.45" stroke-linecap="round"/><line x1="593.1" y1="595.7" x2="604.1" y2="603.2" stroke="#1a1a1a" stroke-width="1.45" stroke-linecap="round"/><ellipse cx="607.0" cy="598.0" rx="4.0" ry="6.0" transform="rotate(25 607.0 598.0)" fill="#fff" stroke="#1a1a1a" stroke-width="1.45" />
<ellipse cx="607.5" cy="598.5" rx="2.0" ry="3.5" transform="rotate(25 607.5 598.5)" fill="#fff" stroke="#1a1a1a" stroke-width="0.9" />
<polygon points="649.0,586.0 718.0,549.0 727.0,554.0 728.0,579.0 667.0,612.0 665.0,605.0 656.0,593.0" fill="#fff" stroke="#1a1a1a" stroke-width="1.45" stroke-linejoin="round"/>
<line x1="656.0" y1="592.0" x2="726.0" y2="556.0" stroke="#1a1a1a" stroke-width="1.0" stroke-linecap="round"/>
<line x1="727.0" y1="556.0" x2="728.0" y2="579.0" stroke="#1a1a1a" stroke-width="1.0" stroke-linecap="round"/>
<polygon points="655.0,596.0 664.0,592.0 670.0,597.0 668.0,611.0 662.0,612.0 655.0,606.0" fill="#fff" stroke="#1a1a1a" stroke-width="1.45" stroke-linejoin="round"/>
<ellipse cx="716.0" cy="574.0" rx="6.5" ry="8.0" transform="rotate(20 716.0 574.0)" fill="#fff" stroke="#1a1a1a" stroke-width="1.45" /><polygon points="719.3,566.7 723.3,568.7 716.7,583.3 712.7,581.3" fill="#fff" stroke="none"/><line x1="719.3" y1="566.7" x2="723.3" y2="568.7" stroke="#1a1a1a" stroke-width="1.45" stroke-linecap="round"/><line x1="712.7" y1="581.3" x2="716.7" y2="583.3" stroke="#1a1a1a" stroke-width="1.45" stroke-linecap="round"/><ellipse cx="720.0" cy="576.0" rx="6.5" ry="8.0" transform="rotate(20 720.0 576.0)" fill="#fff" stroke="#1a1a1a" stroke-width="1.45" />
<ellipse cx="720.0" cy="576.5" rx="3.5" ry="5.0" transform="rotate(20 720.0 576.5)" fill="#fff" stroke="#1a1a1a" stroke-width="1.0" />
<line x1="664.0" y1="600.0" x2="720.0" y2="571.0" stroke="#1a1a1a" stroke-width="0.7" stroke-linecap="round"/>
<circle cx="711" cy="558" r="0.9" fill="#1a1a1a"/>
<polygon points="597.6,616.8 636.0,593.6 649.0,597.6 657.0,607.0 651.0,622.0 597.6,646.4 588.0,641.0" fill="#fff" stroke="#1a1a1a" stroke-width="1.45" stroke-linejoin="round"/>
<polygon points="597.6,616.8 608.0,621.6 597.6,646.4 588.0,641.0" fill="#fff" stroke="#1a1a1a" stroke-width="1.45" stroke-linejoin="round"/>
<polygon points="599.0,621.0 605.0,623.5 597.5,642.0 591.0,638.5" fill="#fff" stroke="#1a1a1a" stroke-width="0.9" stroke-linejoin="round"/>
<line x1="608.0" y1="621.6" x2="646.0" y2="601.0" stroke="#1a1a1a" stroke-width="1.45" stroke-linecap="round"/>
<ellipse cx="634.5" cy="613.5" rx="4.8" ry="5.5" transform="rotate(15 634.5 613.5)" fill="#fff" stroke="#1a1a1a" stroke-width="1.45" />
<ellipse cx="635.0" cy="614.0" rx="2.6" ry="3.2" transform="rotate(15 635.0 614.0)" fill="#fff" stroke="#1a1a1a" stroke-width="1.0" />
<line x1="712.0" y1="508.0" x2="712.0" y2="533.0" stroke="#1a1a1a" stroke-width="1.3" stroke-linecap="round"/>
<line x1="712.0" y1="510.0" x2="712.0" y2="519.0" stroke="#1a1a1a" stroke-width="2.4" stroke-linecap="round"/>
<ellipse cx="712.0" cy="505.5" rx="2.8" ry="2.8" transform="rotate(0 712.0 505.5)" fill="#fff" stroke="#1a1a1a" stroke-width="1.45" />
<path d="M706,598 C706,594 710,593 712,593 C715,593 718,594 718,598 C716,600 708,600 706,598 Z" fill="#fff" stroke="#1a1a1a" stroke-width="1.45" stroke-linejoin="round" stroke-linecap="round" />
<line x1="709.0" y1="595.0" x2="711.0" y2="598.0" stroke="#1a1a1a" stroke-width="0.8" stroke-linecap="round"/>
<line x1="713.0" y1="595.0" x2="714.0" y2="598.0" stroke="#1a1a1a" stroke-width="0.8" stroke-linecap="round"/>
<ellipse cx="711.0" cy="610.0" rx="3.3" ry="3.5" transform="rotate(0 711.0 610.0)" fill="#fff" stroke="#1a1a1a" stroke-width="1.45" />
<ellipse cx="711.0" cy="610.0" rx="1.4" ry="1.6" transform="rotate(0 711.0 610.0)" fill="#1a1a1a" stroke="#1a1a1a" stroke-width="0.3" />
<path d="M678,634 C688,632 696,632 704,630.5 L752.5,606" fill="none" stroke="#1a1a1a" stroke-width="5.2" stroke-linecap="round"/>
<path d="M678,634 C688,632 696,632 704,630.5" fill="none" stroke="#fff" stroke-width="2.6"/>
<path d="M705,630 L752,606.3" fill="none" stroke="#fff" stroke-width="2.6" stroke-dasharray="1.1 1.0"/>
<ellipse cx="676.0" cy="638.8" rx="7.2" ry="7.5" transform="rotate(0 676.0 638.8)" fill="#fff" stroke="#1a1a1a" stroke-width="1.45" />
<path d="M679,635 a3,3.5 0 1 0 1,6" fill="none" stroke="#1a1a1a" stroke-width="1.2" stroke-linejoin="round" stroke-linecap="round" />
<line x1="671.0" y1="634.0" x2="674.0" y2="642.0" stroke="#1a1a1a" stroke-width="0.8" stroke-linecap="round"/>
<polygon points="753.0,597.0 757.0,593.0 764.0,594.0 767.0,600.0 764.0,606.0 757.0,606.0 753.0,602.0" fill="#fff" stroke="#1a1a1a" stroke-width="1.9" stroke-linejoin="round"/>
<ellipse cx="760.0" cy="599.5" rx="3.0" ry="3.5" transform="rotate(0 760.0 599.5)" fill="none" stroke="#1a1a1a" stroke-width="1.3" />
<line x1="757.0" y1="598.0" x2="763.0" y2="601.0" stroke="#1a1a1a" stroke-width="1.0" stroke-linecap="round"/>
<polygon points="770.0,589.0 774.0,585.0 781.0,586.0 784.0,592.0 781.0,598.0 774.0,598.0 770.0,594.0" fill="#fff" stroke="#1a1a1a" stroke-width="1.9" stroke-linejoin="round"/>
<ellipse cx="777.0" cy="592.0" rx="3.0" ry="3.5" transform="rotate(0 777.0 592.0)" fill="#555" stroke="#1a1a1a" stroke-width="1.3" />
<polygon points="699.0,654.0 702.0,649.0 708.0,649.0 711.0,654.0 708.0,661.0 702.0,661.0" fill="#fff" stroke="#1a1a1a" stroke-width="1.9" stroke-linejoin="round"/>
<ellipse cx="705.5" cy="655.0" rx="2.3" ry="3.0" transform="rotate(0 705.5 655.0)" fill="#777" stroke="#1a1a1a" stroke-width="1.2" />
<line x1="701.0" y1="652.0" x2="704.0" y2="660.0" stroke="#1a1a1a" stroke-width="0.9" stroke-linecap="round"/>
<polygon points="714.0,662.0 717.0,657.0 723.0,657.0 726.0,662.0 723.0,669.0 717.0,669.0" fill="#fff" stroke="#1a1a1a" stroke-width="1.9" stroke-linejoin="round"/>
<ellipse cx="720.5" cy="663.0" rx="2.3" ry="3.0" transform="rotate(0 720.5 663.0)" fill="#777" stroke="#1a1a1a" stroke-width="1.2" />
<polygon points="399.0,567.0 446.0,593.0 402.0,619.0 393.0,631.0 381.0,625.0 382.0,619.0 372.0,608.0 379.0,601.0 374.0,598.0 368.0,602.0 364.0,609.0 348.0,602.0 356.0,593.0" fill="#fff" stroke="#1a1a1a" stroke-width="1.45" stroke-linejoin="round"/>
<path d="M356,594 L402,619" stroke="#1a1a1a" stroke-width="0.8" stroke-dasharray="2 1" fill="none"/>
<line x1="402.0" y1="619.0" x2="446.0" y2="593.0" stroke="#1a1a1a" stroke-width="1.6" stroke-linecap="round"/>
<path d="M367.5,591.5 l2.5,-1" fill="none" stroke="#1a1a1a" stroke-width="1.2" stroke-linejoin="round" stroke-linecap="round" />
<path d="M387,603 l3,-1" fill="none" stroke="#1a1a1a" stroke-width="1.2" stroke-linejoin="round" stroke-linecap="round" />
<line x1="390.0" y1="632.0" x2="390.0" y2="637.0" stroke="#1a1a1a" stroke-width="1.2" stroke-linecap="round"/>
<path d="M385,638 C385,636 395,636 395,638 L394,644 L386,644 Z" fill="#fff" stroke="#1a1a1a" stroke-width="1.45" stroke-linejoin="round" stroke-linecap="round" />
<ellipse cx="390.0" cy="638.0" rx="5.0" ry="2.0" transform="rotate(0 390.0 638.0)" fill="#fff" stroke="#1a1a1a" stroke-width="1.45" />
<ellipse cx="388.0" cy="555.0" rx="4.5" ry="2.5" transform="rotate(0 388.0 555.0)" fill="#fff" stroke="#1a1a1a" stroke-width="1.45" />
<polygon points="386.0,557.0 390.0,557.0 390.0,563.0 386.0,563.0" fill="#fff" stroke="#1a1a1a" stroke-width="1.0" stroke-linejoin="round"/>
<path d="M388,566 L388,604" stroke="#1a1a1a" stroke-width="1" stroke-dasharray="5 3" fill="none"/>
<polygon points="535.0,643.0 581.0,670.0 530.0,704.0 513.0,694.0 516.0,688.5 523.0,682.0 520.5,680.0 514.0,681.5 511.5,684.5 500.0,681.0 496.0,682.0 493.5,686.5 480.0,679.0 488.0,669.0" fill="#fff" stroke="#1a1a1a" stroke-width="1.45" stroke-linejoin="round"/>
<path d="M489,670 L535,695 L580,672" stroke="#1a1a1a" stroke-width="0.8" stroke-dasharray="2 1" fill="none"/>
<line x1="530.0" y1="704.0" x2="581.0" y2="670.0" stroke="#1a1a1a" stroke-width="1.6" stroke-linecap="round"/>
<path d="M513,673 l2.5,-1" fill="none" stroke="#1a1a1a" stroke-width="1.3" stroke-linejoin="round" stroke-linecap="round" />
<path d="M533,686 l2.5,-1" fill="none" stroke="#1a1a1a" stroke-width="1.3" stroke-linejoin="round" stroke-linecap="round" />
<ellipse cx="209.0" cy="588.5" rx="12.5" ry="16.5" transform="rotate(15 209.0 588.5)" fill="#fff" stroke="#1a1a1a" stroke-width="1.45" /><polygon points="214.3,572.9 221.8,575.9 211.2,607.1 203.7,604.1" fill="#fff" stroke="none"/><line x1="214.3" y1="572.9" x2="221.8" y2="575.9" stroke="#1a1a1a" stroke-width="1.45" stroke-linecap="round"/><line x1="203.7" y1="604.1" x2="211.2" y2="607.1" stroke="#1a1a1a" stroke-width="1.45" stroke-linecap="round"/><ellipse cx="216.5" cy="591.5" rx="12.5" ry="16.5" transform="rotate(15 216.5 591.5)" fill="#fff" stroke="#1a1a1a" stroke-width="1.45" />
<ellipse cx="217.5" cy="591.5" rx="9.5" ry="12.5" transform="rotate(15 217.5 591.5)" fill="#fff" stroke="#1a1a1a" stroke-width="1.6" />
<ellipse cx="218.0" cy="591.5" rx="7.0" ry="9.5" transform="rotate(15 218.0 591.5)" fill="none" stroke="#1a1a1a" stroke-width="0.9" />
<polygon points="215.0,586.0 220.0,585.0 223.0,590.0 222.0,597.0 217.0,599.0 214.0,594.0" fill="#222" stroke="#1a1a1a" stroke-width="1.0" stroke-linejoin="round"/>
<polygon points="217.0,589.0 220.0,588.5 221.0,592.0 220.0,595.0 217.5,595.5" fill="#fff" stroke="#1a1a1a" stroke-width="0.5" stroke-linejoin="round"/>
<path d="M199,600 C202,604 205,606 210,607" fill="none" stroke="#1a1a1a" stroke-width="2.2" stroke-linejoin="round" stroke-linecap="round" />
<ellipse cx="233.0" cy="603.0" rx="5.5" ry="8.5" transform="rotate(28 233.0 603.0)" fill="#fff" stroke="#1a1a1a" stroke-width="1.45" /><polygon points="237.0,595.5 286.0,622.5 278.0,637.5 229.0,610.5" fill="#fff" stroke="none"/><line x1="237.0" y1="595.5" x2="286.0" y2="622.5" stroke="#1a1a1a" stroke-width="1.45" stroke-linecap="round"/><line x1="229.0" y1="610.5" x2="278.0" y2="637.5" stroke="#1a1a1a" stroke-width="1.45" stroke-linecap="round"/><ellipse cx="282.0" cy="630.0" rx="5.5" ry="8.5" transform="rotate(28 282.0 630.0)" fill="#fff" stroke="#1a1a1a" stroke-width="1.45" />
<polygon points="229.5,601.0 235.0,598.0 236.0,606.0 231.0,611.0" fill="#fff" stroke="#1a1a1a" stroke-width="1.1" stroke-linejoin="round"/>
<ellipse cx="282.5" cy="630.5" rx="4.0" ry="6.5" transform="rotate(28 282.5 630.5)" fill="#fff" stroke="#1a1a1a" stroke-width="1.0" />
<path d="M279,624 C282,622 286,624 287,628 L285,628 C284,626 282,625 280,626 Z" fill="#1a1a1a" stroke="#1a1a1a" stroke-width="0.5" stroke-linejoin="round" stroke-linecap="round" />
<path d="M252,596 C256,594 258,595 260,598 C265,606 268,614 270,623 L266,625 C264,617 260,608 254,601 Z" fill="#fff" stroke="#1a1a1a" stroke-width="1.45" stroke-linejoin="round" stroke-linecap="round" />
<polygon points="321.3,647.2 320.3,650.2 315.6,650.8 314.4,652.9 315.6,658.1 313.5,660.2 309.4,658.0 307.5,659.2 306.3,664.7 303.7,665.4 301.2,661.0 299.1,660.9 295.8,665.2 293.3,664.3 293.2,658.8 291.5,657.5 287.0,659.5 285.3,657.2 287.6,652.2 286.7,650.0 282.2,649.1 281.8,646.1 285.8,642.8 286.0,640.3 282.7,636.8 283.7,633.8 288.4,633.2 289.6,631.1 288.4,625.9 290.5,623.8 294.6,626.0 296.5,624.8 297.7,619.3 300.3,618.6 302.8,623.0 304.9,623.1 308.2,618.8 310.7,619.7 310.8,625.2 312.5,626.5 317.0,624.5 318.7,626.8 316.4,631.8 317.3,634.0 321.8,634.9 322.2,637.9 318.2,641.2 318.0,643.7" fill="#fff" stroke="#1a1a1a" stroke-width="1.45" stroke-linejoin="round"/>
<polygon points="325.3,649.2 324.3,652.2 319.6,652.8 318.4,654.9 319.6,660.1 317.5,662.2 313.4,660.0 311.5,661.2 310.3,666.7 307.7,667.4 305.2,663.0 303.1,662.9 299.8,667.2 297.3,666.3 297.2,660.8 295.5,659.5 291.0,661.5 289.3,659.2 291.6,654.2 290.7,652.0 286.2,651.1 285.8,648.1 289.8,644.8 290.0,642.3 286.7,638.8 287.7,635.8 292.4,635.2 293.6,633.1 292.4,627.9 294.5,625.8 298.6,628.0 300.5,626.8 301.7,621.3 304.3,620.6 306.8,625.0 308.9,625.1 312.2,620.8 314.7,621.7 314.8,627.2 316.5,628.5 321.0,626.5 322.7,628.8 320.4,633.8 321.3,636.0 325.8,636.9 326.2,639.9 322.2,643.2 322.0,645.7" fill="#fff" stroke="#1a1a1a" stroke-width="1.45" stroke-linejoin="round"/>
<ellipse cx="309.0" cy="642.0" rx="8.8" ry="12.4" transform="rotate(20 309.0 642.0)" fill="#fff" stroke="#1a1a1a" stroke-width="1.45" /><polygon points="315.0,631.3 326.5,640.3 314.5,661.7 303.0,652.7" fill="#fff" stroke="none"/><line x1="315.0" y1="631.3" x2="326.5" y2="640.3" stroke="#1a1a1a" stroke-width="1.45" stroke-linecap="round"/><line x1="303.0" y1="652.7" x2="314.5" y2="661.7" stroke="#1a1a1a" stroke-width="1.45" stroke-linecap="round"/><ellipse cx="320.5" cy="651.0" rx="8.8" ry="12.4" transform="rotate(20 320.5 651.0)" fill="#fff" stroke="#1a1a1a" stroke-width="1.45" />
<ellipse cx="321.0" cy="652.0" rx="4.2" ry="6.0" transform="rotate(20 321.0 652.0)" fill="#fff" stroke="#1a1a1a" stroke-width="1.6" />
<ellipse cx="321.0" cy="652.0" rx="2.2" ry="3.8" transform="rotate(20 321.0 652.0)" fill="#fff" stroke="#1a1a1a" stroke-width="0.8" />
<path d="M289,671 L295,669 L297,676 L292,679 L288,676 Z" fill="#333" stroke="#1a1a1a" stroke-width="1.0" stroke-linejoin="round" stroke-linecap="round" />
<ellipse cx="339.0" cy="661.0" rx="10.0" ry="12.4" transform="rotate(20 339.0 661.0)" fill="#fff" stroke="#1a1a1a" stroke-width="1.45" />
<ellipse cx="339.5" cy="661.5" rx="6.5" ry="9.0" transform="rotate(20 339.5 661.5)" fill="#fff" stroke="#1a1a1a" stroke-width="1.1" />
<ellipse cx="355.5" cy="671.0" rx="10.0" ry="12.2" transform="rotate(20 355.5 671.0)" fill="#fff" stroke="#1a1a1a" stroke-width="1.45" />
<ellipse cx="356.0" cy="671.5" rx="6.5" ry="9.0" transform="rotate(20 356.0 671.5)" fill="#fff" stroke="#1a1a1a" stroke-width="1.1" />
<line x1="345.0" y1="700.0" x2="362.0" y2="692.5" stroke="#1a1a1a" stroke-width="1.4" stroke-linecap="round"/>
<ellipse cx="343.0" cy="701.5" rx="2.8" ry="1.8" transform="rotate(-20 343.0 701.5)" fill="#fff" stroke="#1a1a1a" stroke-width="1.1" />
<polygon points="372.0,674.4 458.4,721.8 455.0,722.4 451.0,725.4 445.2,725.4 444.0,729.6 369.6,688.8 367.5,683.0 368.5,677.0" fill="#fff" stroke="#1a1a1a" stroke-width="1.45" stroke-linejoin="round"/>
<line x1="370.8" y1="681.6" x2="452.0" y2="724.5" stroke="#1a1a1a" stroke-width="1.0" stroke-linecap="round"/>
<line x1="455.0" y1="722.4" x2="465.6" y2="718.8" stroke="#1a1a1a" stroke-width="1.2" stroke-linecap="round"/>
<polygon points="454.8,729.6 464.4,728.4 467.0,727.5 572.0,785.5 573.0,792.0 566.0,799.0 455.0,738.0 453.6,735.6" fill="#fff" stroke="#1a1a1a" stroke-width="1.45" stroke-linejoin="round"/>
<line x1="455.0" y1="733.0" x2="566.0" y2="792.0" stroke="#1a1a1a" stroke-width="1.0" stroke-linecap="round"/>
<line x1="566.0" y1="792.0" x2="572.0" y2="786.0" stroke="#1a1a1a" stroke-width="1.0" stroke-linecap="round"/>
<line x1="464.4" y1="728.4" x2="474.0" y2="723.6" stroke="#1a1a1a" stroke-width="1.2" stroke-linecap="round"/>
<line x1="446.4" y1="738.0" x2="453.6" y2="735.6" stroke="#1a1a1a" stroke-width="1.2" stroke-linecap="round"/>
<ellipse cx="373.0" cy="684.0" rx="1.0" ry="1.0" transform="rotate(0 373.0 684.0)" fill="#fff" stroke="#1a1a1a" stroke-width="0.8" />
<ellipse cx="550.0" cy="785.0" rx="1.0" ry="1.0" transform="rotate(0 550.0 785.0)" fill="#fff" stroke="#1a1a1a" stroke-width="0.8" />
<ellipse cx="587.0" cy="804.5" rx="9.8" ry="12.0" transform="rotate(20 587.0 804.5)" fill="#fff" stroke="#1a1a1a" stroke-width="1.45" />
<ellipse cx="587.5" cy="805.0" rx="6.0" ry="9.0" transform="rotate(20 587.5 805.0)" fill="#fff" stroke="#1a1a1a" stroke-width="1.1" />
<polygon points="632.8,828.6 631.8,831.6 626.0,831.7 624.7,833.8 626.8,839.7 624.6,841.8 619.8,838.7 617.8,839.8 616.9,846.3 614.1,847.0 611.4,841.5 609.3,841.4 605.7,846.7 603.0,845.7 603.3,839.3 601.5,838.0 596.1,840.7 594.3,838.4 597.4,832.7 596.5,830.6 590.8,830.0 590.4,826.9 595.5,823.6 595.7,821.2 591.2,817.4 592.2,814.4 598.0,814.3 599.3,812.2 597.2,806.3 599.4,804.2 604.2,807.3 606.2,806.2 607.1,799.7 609.9,799.0 612.6,804.5 614.7,804.6 618.3,799.3 621.0,800.3 620.7,806.7 622.5,808.0 627.9,805.3 629.7,807.6 626.6,813.3 627.5,815.4 633.2,816.0 633.6,819.1 628.5,822.4 628.3,824.8" fill="#fff" stroke="#1a1a1a" stroke-width="1.45" stroke-linejoin="round"/>
<polygon points="637.8,830.6 636.8,833.6 631.0,833.7 629.7,835.8 631.8,841.7 629.6,843.8 624.8,840.7 622.8,841.8 621.9,848.3 619.1,849.0 616.4,843.5 614.3,843.4 610.7,848.7 608.0,847.7 608.3,841.3 606.5,840.0 601.1,842.7 599.3,840.4 602.4,834.7 601.5,832.6 595.8,832.0 595.4,828.9 600.5,825.6 600.7,823.2 596.2,819.4 597.2,816.4 603.0,816.3 604.3,814.2 602.2,808.3 604.4,806.2 609.2,809.3 611.2,808.2 612.1,801.7 614.9,801.0 617.6,806.5 619.7,806.6 623.3,801.3 626.0,802.3 625.7,808.7 627.5,810.0 632.9,807.3 634.7,809.6 631.6,815.3 632.5,817.4 638.2,818.0 638.6,821.1 633.5,824.4 633.3,826.8" fill="#fff" stroke="#1a1a1a" stroke-width="1.45" stroke-linejoin="round"/>
<ellipse cx="620.5" cy="824.0" rx="3.6" ry="5.6" transform="rotate(-30 620.5 824.0)" fill="#fff" stroke="#1a1a1a" stroke-width="2.2" />
<ellipse cx="642.0" cy="838.5" rx="4.5" ry="8.0" transform="rotate(28 642.0 838.5)" fill="#fff" stroke="#1a1a1a" stroke-width="1.45" /><polygon points="645.8,831.4 695.8,858.4 688.2,872.6 638.2,845.6" fill="#fff" stroke="none"/><line x1="645.8" y1="831.4" x2="695.8" y2="858.4" stroke="#1a1a1a" stroke-width="1.45" stroke-linecap="round"/><line x1="638.2" y1="845.6" x2="688.2" y2="872.6" stroke="#1a1a1a" stroke-width="1.45" stroke-linecap="round"/><ellipse cx="692.0" cy="865.5" rx="4.5" ry="8.0" transform="rotate(28 692.0 865.5)" fill="#fff" stroke="#1a1a1a" stroke-width="1.45" />
<path d="M662,833 C665,831 667,832 668,834 C671,842 673,849 674,856 L671,857 C669,849 667,842 662,836 Z" fill="#fff" stroke="#1a1a1a" stroke-width="1.45" stroke-linejoin="round" stroke-linecap="round" />
<polygon points="682.0,861.0 688.0,858.0 690.0,868.0 684.0,872.0" fill="#fff" stroke="#1a1a1a" stroke-width="1.0" stroke-linejoin="round"/>
<ellipse cx="692.0" cy="865.5" rx="3.0" ry="6.0" transform="rotate(28 692.0 865.5)" fill="#fff" stroke="#1a1a1a" stroke-width="1.0" />
<ellipse cx="713.0" cy="882.5" rx="13.0" ry="16.5" transform="rotate(18 713.0 882.5)" fill="#fff" stroke="#1a1a1a" stroke-width="1.45" /><polygon points="718.2,866.8 725.7,869.3 715.3,900.7 707.8,898.2" fill="#fff" stroke="none"/><line x1="718.2" y1="866.8" x2="725.7" y2="869.3" stroke="#1a1a1a" stroke-width="1.45" stroke-linecap="round"/><line x1="707.8" y1="898.2" x2="715.3" y2="900.7" stroke="#1a1a1a" stroke-width="1.45" stroke-linecap="round"/><ellipse cx="720.5" cy="885.0" rx="13.0" ry="16.5" transform="rotate(18 720.5 885.0)" fill="#fff" stroke="#1a1a1a" stroke-width="1.45" />
<ellipse cx="721.5" cy="885.0" rx="9.5" ry="12.5" transform="rotate(18 721.5 885.0)" fill="#fff" stroke="#1a1a1a" stroke-width="1.6" />
<ellipse cx="722.0" cy="885.0" rx="7.0" ry="9.5" transform="rotate(18 722.0 885.0)" fill="none" stroke="#1a1a1a" stroke-width="0.9" />
<polygon points="719.0,879.0 724.0,878.0 727.0,883.0 726.0,890.0 721.0,892.0 718.0,887.0" fill="#222" stroke="#1a1a1a" stroke-width="1.0" stroke-linejoin="round"/>
<polygon points="721.0,882.0 724.0,881.5 725.0,885.0 724.0,888.0 721.5,888.5" fill="#fff" stroke="#1a1a1a" stroke-width="0.5" stroke-linejoin="round"/>
<path d="M702,893 C705,897 708,899 713,900" fill="none" stroke="#1a1a1a" stroke-width="2.2" stroke-linejoin="round" stroke-linecap="round" />
<polygon points="461.0,823.0 485.0,815.0 487.0,817.0 487.0,848.0 463.0,856.0 461.0,854.0" fill="#fff" stroke="#1a1a1a" stroke-width="1.45" stroke-linejoin="round"/>
<line x1="461.0" y1="823.0" x2="463.0" y2="826.0" stroke="#1a1a1a" stroke-width="1.0" stroke-linecap="round"/>
<line x1="463.0" y1="826.0" x2="487.0" y2="817.0" stroke="#1a1a1a" stroke-width="1.0" stroke-linecap="round"/>
<line x1="463.0" y1="826.0" x2="463.0" y2="856.0" stroke="#1a1a1a" stroke-width="1.0" stroke-linecap="round"/>
<path d="M474,834 a1.5,1.8 0 1 0 1,2.5" fill="none" stroke="#1a1a1a" stroke-width="1.0" stroke-linejoin="round" stroke-linecap="round" />
<polygon points="508.0,851.0 531.0,843.0 533.0,845.0 533.0,874.0 510.0,882.0 508.0,880.0" fill="#fff" stroke="#1a1a1a" stroke-width="1.45" stroke-linejoin="round"/>
<line x1="508.0" y1="851.0" x2="510.0" y2="854.0" stroke="#1a1a1a" stroke-width="1.0" stroke-linecap="round"/>
<line x1="510.0" y1="854.0" x2="533.0" y2="845.0" stroke="#1a1a1a" stroke-width="1.0" stroke-linecap="round"/>
<line x1="510.0" y1="854.0" x2="510.0" y2="882.0" stroke="#1a1a1a" stroke-width="1.0" stroke-linecap="round"/>
<path d="M520,861 a1.5,1.8 0 1 0 1,2.5" fill="none" stroke="#1a1a1a" stroke-width="1.0" stroke-linejoin="round" stroke-linecap="round" />
<ellipse cx="516.0" cy="930.0" rx="28.0" ry="49.0" transform="rotate(24 516.0 930.0)" fill="#fff" stroke="#1a1a1a" stroke-width="1.45" />
<polygon points="536.3,885.4 561.3,897.4 520.7,986.6 495.7,974.6" fill="#fff" stroke="none"/><line x1="536.3" y1="885.4" x2="561.3" y2="897.4" stroke="#1a1a1a" stroke-width="1.45" stroke-linecap="round"/><line x1="495.7" y1="974.6" x2="520.7" y2="986.6" stroke="#1a1a1a" stroke-width="1.45" stroke-linecap="round"/><ellipse cx="541.0" cy="942.0" rx="28.0" ry="49.0" transform="rotate(24 541.0 942.0)" fill="none" stroke="#1a1a1a" stroke-width="1.45" />
<ellipse cx="516.0" cy="930.0" rx="28.0" ry="49.0" transform="rotate(24 516.0 930.0)" fill="none" stroke="#1a1a1a" stroke-width="1.0" />
<line x1="483.0" y1="948.0" x2="505.0" y2="960.0" stroke="#1a1a1a" stroke-width="2.0" stroke-linecap="round"/>
<line x1="555.0" y1="906.0" x2="576.0" y2="915.0" stroke="#1a1a1a" stroke-width="2.0" stroke-linecap="round"/>
<polygon points="400.0,918.0 470.0,931.0 461.0,940.0" fill="#fff" stroke="#1a1a1a" stroke-width="1.1" stroke-linejoin="round"/>
<ellipse cx="222.0" cy="767.0" rx="37.0" ry="52.0" transform="rotate(25 222.0 767.0)" fill="#fff" stroke="#1a1a1a" stroke-width="1.9" />
<ellipse cx="229.0" cy="769.5" rx="34.0" ry="49.5" transform="rotate(25 229.0 769.5)" fill="#fff" stroke="#1a1a1a" stroke-width="1.3" />
<ellipse cx="230.0" cy="770.5" rx="32.0" ry="47.0" transform="rotate(25 230.0 770.5)" fill="none" stroke="#1a1a1a" stroke-width="0.8" />
<path d="M186,800 C190,808 196,814 204,817" fill="none" stroke="#1a1a1a" stroke-width="2.4" stroke-linejoin="round" stroke-linecap="round" />
<path d="M256,731 L300,752 L285,780 L272,790 C277,800 279,812 277,822 C274,832 266,837 256,838 C240,836 225,828 217,817 C210,805 209,795 212,785 C218,760 236,738 256,731 Z" fill="#fff" stroke="#1a1a1a" stroke-width="1.45" stroke-linejoin="round" stroke-linecap="round" />
<path d="M221,820 C232,828 244,835 255,838" fill="none" stroke="#1a1a1a" stroke-width="2.6" stroke-linejoin="round" stroke-linecap="round" />
<line x1="222.0" y1="816.0" x2="253.0" y2="834.0" stroke="#1a1a1a" stroke-width="0.9" stroke-linecap="round"/>
<path d="M315.6,772.8 L392,806 L400,860 L345,889 L279,858.6 L290,845 L310,809 C305,800 305,790 308,786 C310,780 313,775 315.6,772.8 Z" fill="#fff" stroke="#1a1a1a" stroke-width="1.45" stroke-linejoin="round" stroke-linecap="round" />
<path d="M279,858.6 L345,889" fill="none" stroke="#1a1a1a" stroke-width="2.8" stroke-linejoin="round" stroke-linecap="round" />
<ellipse cx="292.0" cy="774.0" rx="21.5" ry="25.5" transform="rotate(15 292.0 774.0)" fill="#fff" stroke="#1a1a1a" stroke-width="1.45" />
<ellipse cx="292.5" cy="774.5" rx="19.0" ry="23.0" transform="rotate(15 292.5 774.5)" fill="#fff" stroke="#1a1a1a" stroke-width="1.0" />
<path d="M296,752 C303,753 308,757 311,762 L307,763 C304,759 300,756 295,755 Z" fill="#1a1a1a" stroke="#1a1a1a" stroke-width="0.4" stroke-linejoin="round" stroke-linecap="round" />
<ellipse cx="293.0" cy="834.0" rx="21.5" ry="25.5" transform="rotate(15 293.0 834.0)" fill="#fff" stroke="#1a1a1a" stroke-width="1.45" />
<ellipse cx="293.5" cy="834.5" rx="19.0" ry="23.0" transform="rotate(15 293.5 834.5)" fill="#fff" stroke="#1a1a1a" stroke-width="1.0" />
<path d="M274,845 C277,851 282,855 289,856 L288,853 C283,852 279,849 277,845 Z" fill="#1a1a1a" stroke="#1a1a1a" stroke-width="0.4" stroke-linejoin="round" stroke-linecap="round" />
<ellipse cx="360.0" cy="848.0" rx="33.0" ry="55.0" transform="rotate(30 360.0 848.0)" fill="#fff" stroke="#1a1a1a" stroke-width="1.45" />
<ellipse cx="362.0" cy="849.0" rx="31.0" ry="53.0" transform="rotate(30 362.0 849.0)" fill="none" stroke="#1a1a1a" stroke-width="0.9" />
<ellipse cx="383.0" cy="858.0" rx="35.0" ry="57.0" transform="rotate(33 383.0 858.0)" fill="#fff" stroke="#1a1a1a" stroke-width="1.45" />
<ellipse cx="388.0" cy="861.0" rx="35.0" ry="57.0" transform="rotate(33 388.0 861.0)" fill="#fff" stroke="#1a1a1a" stroke-width="1.8" />
<ellipse cx="389.0" cy="862.0" rx="31.5" ry="53.0" transform="rotate(33 389.0 862.0)" fill="#fff" stroke="#1a1a1a" stroke-width="1.0" />
<ellipse cx="390.0" cy="862.5" rx="28.0" ry="49.0" transform="rotate(33 390.0 862.5)" fill="none" stroke="#1a1a1a" stroke-width="0.8" />
<path d="M352,886 C356,896 362,905 370,910" fill="none" stroke="#1a1a1a" stroke-width="2.2" stroke-linejoin="round" stroke-linecap="round" />
<ellipse cx="383.0" cy="857.5" rx="7.0" ry="13.0" transform="rotate(20 383.0 857.5)" fill="none" stroke="#1a1a1a" stroke-width="1.0" />
<line x1="379.0" y1="841.3" x2="385.0" y2="844.7" stroke="#1a1a1a" stroke-width="3.6" stroke-linecap="round"/>
<line x1="379.4" y1="841.5" x2="384.6" y2="844.5" stroke="#fff" stroke-width="1.3" stroke-linecap="round"/>
<line x1="391.0" y1="844.3" x2="397.0" y2="847.7" stroke="#1a1a1a" stroke-width="3.6" stroke-linecap="round"/>
<line x1="391.4" y1="844.5" x2="396.6" y2="847.5" stroke="#fff" stroke-width="1.3" stroke-linecap="round"/>
<line x1="369.0" y1="855.3" x2="375.0" y2="858.7" stroke="#1a1a1a" stroke-width="3.6" stroke-linecap="round"/>
<line x1="369.4" y1="855.5" x2="374.6" y2="858.5" stroke="#fff" stroke-width="1.3" stroke-linecap="round"/>
<line x1="392.0" y1="858.3" x2="398.0" y2="861.7" stroke="#1a1a1a" stroke-width="3.6" stroke-linecap="round"/>
<line x1="392.4" y1="858.5" x2="397.6" y2="861.5" stroke="#fff" stroke-width="1.3" stroke-linecap="round"/>
<line x1="369.0" y1="869.3" x2="375.0" y2="872.7" stroke="#1a1a1a" stroke-width="3.6" stroke-linecap="round"/>
<line x1="369.4" y1="869.5" x2="374.6" y2="872.5" stroke="#fff" stroke-width="1.3" stroke-linecap="round"/>
<line x1="379.0" y1="870.3" x2="385.0" y2="873.7" stroke="#1a1a1a" stroke-width="3.6" stroke-linecap="round"/>
<line x1="379.4" y1="870.5" x2="384.6" y2="873.5" stroke="#fff" stroke-width="1.3" stroke-linecap="round"/>
<ellipse cx="577.0" cy="271.0" rx="10.0" ry="12.8" transform="rotate(15 577.0 271.0)" fill="#fff" stroke="#1a1a1a" stroke-width="1.45" /><polygon points="580.9,258.8 589.4,261.8 581.6,286.2 573.1,283.2" fill="#fff" stroke="none"/><line x1="580.9" y1="258.8" x2="589.4" y2="261.8" stroke="#1a1a1a" stroke-width="1.45" stroke-linecap="round"/><line x1="573.1" y1="283.2" x2="581.6" y2="286.2" stroke="#1a1a1a" stroke-width="1.45" stroke-linecap="round"/><ellipse cx="585.5" cy="274.0" rx="10.0" ry="12.8" transform="rotate(15 585.5 274.0)" fill="#fff" stroke="#1a1a1a" stroke-width="1.45" />
<ellipse cx="586.0" cy="274.5" rx="7.0" ry="10.0" transform="rotate(15 586.0 274.5)" fill="none" stroke="#1a1a1a" stroke-width="1.0" />
<ellipse cx="587.0" cy="277.0" rx="4.8" ry="6.8" transform="rotate(15 587.0 277.0)" fill="#fff" stroke="#1a1a1a" stroke-width="1.4" />
<path d="M570,280 C572,284 575,286 579,287" fill="none" stroke="#1a1a1a" stroke-width="2.0" stroke-linejoin="round" stroke-linecap="round" />
<ellipse cx="613.0" cy="291.0" rx="15.0" ry="24.5" transform="rotate(28 613.0 291.0)" fill="#fff" stroke="#1a1a1a" stroke-width="1.45" />
<ellipse cx="614.0" cy="292.0" rx="7.8" ry="12.0" transform="rotate(28 614.0 292.0)" fill="#fff" stroke="#1a1a1a" stroke-width="1.3" />
<ellipse cx="614.5" cy="292.5" rx="5.5" ry="9.0" transform="rotate(28 614.5 292.5)" fill="none" stroke="#1a1a1a" stroke-width="1.0" />
<circle cx="604.5" cy="306.9" r="1.8" fill="#1a1a1a"/>
<circle cx="600.4" cy="294.5" r="1.8" fill="#1a1a1a"/>
<circle cx="608.8" cy="278.6" r="1.8" fill="#1a1a1a"/>
<circle cx="621.5" cy="275.1" r="1.8" fill="#1a1a1a"/>
<circle cx="625.6" cy="287.5" r="1.8" fill="#1a1a1a"/>
<circle cx="617.2" cy="303.4" r="1.8" fill="#1a1a1a"/>
<ellipse cx="635.0" cy="304.0" rx="6.5" ry="9.5" transform="rotate(15 635.0 304.0)" fill="#fff" stroke="#1a1a1a" stroke-width="1.45" /><polygon points="637.6,294.9 645.6,297.4 640.4,315.6 632.4,313.1" fill="#fff" stroke="none"/><line x1="637.6" y1="294.9" x2="645.6" y2="297.4" stroke="#1a1a1a" stroke-width="1.45" stroke-linecap="round"/><line x1="632.4" y1="313.1" x2="640.4" y2="315.6" stroke="#1a1a1a" stroke-width="1.45" stroke-linecap="round"/><ellipse cx="643.0" cy="306.5" rx="6.5" ry="9.5" transform="rotate(15 643.0 306.5)" fill="#fff" stroke="#1a1a1a" stroke-width="1.45" />
<ellipse cx="643.5" cy="307.0" rx="4.0" ry="7.0" transform="rotate(15 643.5 307.0)" fill="none" stroke="#1a1a1a" stroke-width="1.0" />
<ellipse cx="630.5" cy="322.5" rx="5.0" ry="5.0" transform="rotate(0 630.5 322.5)" fill="#1a1a1a" stroke="#1a1a1a" stroke-width="1.0" />
<ellipse cx="631.0" cy="322.5" rx="2.0" ry="2.3" transform="rotate(0 631.0 322.5)" fill="none" stroke="#1a1a1a" stroke-width="0.7" style="stroke:#fff"/>
<line x1="133" y1="993.6" x2="865" y2="993.6" stroke="#3a3a3a" stroke-width="1.6"/>
<text x="201" y="987.3" font-family="Liberation Sans" font-size="7.5" fill="#222" stroke="#222" stroke-width="0.25">BS97G350</text>
<g stroke="#111" stroke-width="1.3" fill="none"><line x1="418.6" y1="122.7" x2="391.3" y2="129.6"/><line x1="313.6" y1="165.9" x2="326.1" y2="145.7"/><line x1="341.3" y1="186.4" x2="337.9" y2="165.4"/><line x1="379.2" y1="205.5" x2="383.9" y2="183.4"/><line x1="521.1" y1="123.2" x2="491.1" y2="150.3"/><line x1="528.1" y1="126.7" x2="524.4" y2="172.5"/><line x1="554.9" y1="166.1" x2="571.4" y2="155.1"/><line x1="556.7" y1="171.0" x2="572.5" y2="169.5"/><line x1="629.4" y1="189.3" x2="613.0" y2="181.4"/><line x1="674.5" y1="173.0" x2="710.6" y2="180.0"/><line x1="715.1" y1="136.2" x2="711.1" y2="137.9"/><line x1="728.4" y1="142.2" x2="731.3" y2="150.8"/><line x1="751.3" y1="120.2" x2="754.3" y2="129.8"/><line x1="779.6" y1="144.2" x2="774.8" y2="152.3"/><line x1="781.6" y1="225.4" x2="767.4" y2="228.8"/><line x1="684.9" y1="225.5" x2="689.5" y2="216.9"/><line x1="689.4" y1="230.0" x2="705.1" y2="221.6"/><line x1="721.0" y1="256.5" x2="732.4" y2="234.9"/><line x1="587.9" y1="224.6" x2="585.5" y2="248.5"/><line x1="623.2" y1="244.6" x2="620.9" y2="258.6"/><line x1="662.5" y1="265.2" x2="649.8" y2="286.3"/><line x1="606.6" y1="335.2" x2="616.1" y2="330.5"/><line x1="753.8" y1="316.5" x2="722.7" y2="335.2"/><line x1="759.0" y1="320.9" x2="747.0" y2="350.9"/><line x1="237.3" y1="278.3" x2="225.4" y2="323.7"/><line x1="242.7" y1="278.4" x2="249.6" y2="305.7"/><line x1="361.7" y1="350.8" x2="344.2" y2="391.0"/><line x1="368.1" y1="351.5" x2="371.9" y2="370.6"/><line x1="405.2" y1="447.8" x2="418.7" y2="443.6"/><line x1="425.2" y1="465.1" x2="435.3" y2="454.1"/><line x1="485.3" y1="420.6" x2="482.9" y2="435.6"/><line x1="509.4" y1="424.6" x2="504.8" y2="454.6"/><line x1="552.4" y1="375.6" x2="554.3" y2="389.5"/><line x1="583.3" y1="393.4" x2="581.4" y2="400.7"/><line x1="614.3" y1="409.2" x2="606.5" y2="414.8"/><line x1="554.3" y1="434.7" x2="559.3" y2="425.8"/><line x1="630.0" y1="479.3" x2="628.5" y2="463.5"/><line x1="739.4" y1="505.7" x2="723.0" y2="513.6"/><line x1="548.4" y1="546.8" x2="504.5" y2="541.6"/><line x1="552.9" y1="539.2" x2="541.2" y2="522.5"/><line x1="599.7" y1="529.2" x2="593.3" y2="527.4"/><line x1="511.6" y1="581.2" x2="529.1" y2="572.5"/><line x1="564.8" y1="607.7" x2="572.5" y2="598.3"/><line x1="602.0" y1="570.7" x2="602.0" y2="578.5"/><line x1="630.5" y1="561.6" x2="626.8" y2="588.6"/><line x1="639.1" y1="559.0" x2="654.3" y2="575.9"/><line x1="640.6" y1="656.9" x2="650.1" y2="641.7"/><line x1="739.6" y1="581.1" x2="722.8" y2="590.4"/><line x1="693.5" y1="613.7" x2="700.6" y2="612.2"/><line x1="746.1" y1="641.8" x2="734.6" y2="628.2"/><line x1="775.1" y1="626.5" x2="768.5" y2="613.9"/><line x1="779.3" y1="625.3" x2="778.3" y2="609.5"/><line x1="700.6" y1="688.3" x2="701.7" y2="671.5"/><line x1="704.7" y1="689.4" x2="711.6" y2="675.0"/><line x1="452.8" y1="578.2" x2="439.3" y2="582.4"/><line x1="443.8" y1="626.1" x2="403.3" y2="638.4"/><line x1="498.9" y1="631.2" x2="510.4" y2="644.8"/><line x1="345.7" y1="554.0" x2="373.5" y2="554.0"/><line x1="235.7" y1="542.8" x2="226.2" y2="564.0"/><line x1="291.0" y1="573.1" x2="270.1" y2="591.4"/><line x1="232.4" y1="667.3" x2="274.7" y2="656.4"/><line x1="266.1" y1="685.4" x2="275.8" y2="681.9"/><line x1="297.1" y1="703.0" x2="323.9" y2="679.6"/><line x1="298.5" y1="705.1" x2="337.1" y2="685.5"/><line x1="334.3" y1="720.7" x2="338.3" y2="713.8"/><line x1="377.8" y1="747.0" x2="411.5" y2="724.1"/><line x1="379.7" y1="752.0" x2="457.5" y2="744.5"/><line x1="230.0" y1="884.7" x2="241.5" y2="845.3"/><line x1="235.7" y1="888.8" x2="270.5" y2="864.2"/><line x1="566.9" y1="850.0" x2="576.0" y2="827.1"/><line x1="606.7" y1="873.4" x2="609.1" y2="858.4"/><line x1="699.7" y1="824.8" x2="692.2" y2="842.0"/><line x1="749.3" y1="848.4" x2="736.0" y2="861.2"/><line x1="468.0" y1="882.3" x2="468.0" y2="866.5"/><line x1="477.9" y1="889.0" x2="497.9" y2="881.0"/><line x1="609.4" y1="910.5" x2="583.4" y2="906.8"/><line x1="610.4" y1="916.7" x2="587.9" y2="927.6"/></g><g fill="#111"><polygon points="386.0,131.0 390.8,127.5 391.9,131.8"/><polygon points="329.0,141.0 328.0,146.8 324.2,144.5"/><polygon points="337.0,160.0 340.1,165.1 335.7,165.8"/><polygon points="385.0,178.0 386.0,183.8 381.7,182.9"/><polygon points="487.0,154.0 489.6,148.7 492.6,151.9"/><polygon points="524.0,178.0 522.2,172.3 526.6,172.7"/><polygon points="576.0,152.0 572.6,156.9 570.2,153.2"/><polygon points="578.0,169.0 572.7,171.7 572.3,167.3"/><polygon points="608.0,179.0 613.9,179.4 612.0,183.4"/><polygon points="716.0,181.0 710.2,182.1 711.0,177.8"/><polygon points="706.0,140.0 710.2,135.8 711.9,139.9"/><polygon points="733.0,156.0 729.2,151.5 733.3,150.1"/><polygon points="756.0,135.0 752.2,130.4 756.4,129.1"/><polygon points="772.0,157.0 772.9,151.1 776.7,153.4"/><polygon points="762.0,230.0 766.9,226.6 767.9,230.9"/><polygon points="692.0,212.0 691.4,217.9 687.5,215.9"/><polygon points="710.0,219.0 706.2,223.5 704.1,219.6"/><polygon points="735.0,230.0 734.4,235.9 730.5,233.8"/><polygon points="585.0,254.0 583.4,248.3 587.7,248.7"/><polygon points="620.0,264.0 618.7,258.2 623.1,258.9"/><polygon points="647.0,291.0 647.9,285.2 651.7,287.4"/><polygon points="621.0,328.0 617.1,332.4 615.1,328.5"/><polygon points="718.0,338.0 721.6,333.3 723.8,337.1"/><polygon points="745.0,356.0 745.0,350.1 749.1,351.7"/><polygon points="224.0,329.0 223.3,323.1 227.5,324.2"/><polygon points="251.0,311.0 247.5,306.2 251.8,305.1"/><polygon points="342.0,396.0 342.2,390.1 346.2,391.8"/><polygon points="373.0,376.0 369.8,371.0 374.1,370.2"/><polygon points="424.0,442.0 419.4,445.7 418.1,441.5"/><polygon points="439.0,450.0 436.9,455.5 433.7,452.6"/><polygon points="482.0,441.0 480.7,435.2 485.0,435.9"/><polygon points="504.0,460.0 502.7,454.2 507.0,454.9"/><polygon points="555.0,395.0 552.1,389.8 556.5,389.3"/><polygon points="580.0,406.0 579.3,400.1 583.5,401.2"/><polygon points="602.0,418.0 605.2,413.0 607.8,416.6"/><polygon points="562.0,421.0 561.2,426.9 557.4,424.7"/><polygon points="628.0,458.0 630.7,463.3 626.3,463.7"/><polygon points="718.0,516.0 722.0,511.6 723.9,515.6"/><polygon points="499.0,541.0 504.7,539.5 504.2,543.8"/><polygon points="538.0,518.0 543.0,521.2 539.4,523.8"/><polygon points="588.0,526.0 593.9,525.3 592.7,529.6"/><polygon points="534.0,570.0 530.1,574.4 528.1,570.5"/><polygon points="576.0,594.0 574.2,599.6 570.8,596.9"/><polygon points="602.0,584.0 599.8,578.5 604.2,578.5"/><polygon points="626.0,594.0 624.6,588.2 628.9,588.9"/><polygon points="658.0,580.0 652.7,577.4 656.0,574.4"/><polygon points="653.0,637.0 652.0,642.8 648.2,640.5"/><polygon points="718.0,593.0 721.8,588.4 723.9,592.3"/><polygon points="706.0,611.0 701.1,614.3 700.2,610.0"/><polygon points="731.0,624.0 736.2,626.8 732.9,629.6"/><polygon points="766.0,609.0 770.5,612.9 766.6,614.9"/><polygon points="778.0,604.0 780.5,609.4 776.1,609.6"/><polygon points="702.0,666.0 703.9,671.6 699.5,671.4"/><polygon points="714.0,670.0 713.6,675.9 709.6,674.0"/><polygon points="434.0,584.0 438.6,580.3 439.9,584.5"/><polygon points="398.0,640.0 402.6,636.3 403.9,640.5"/><polygon points="514.0,649.0 508.8,646.2 512.1,643.4"/><polygon points="379.0,554.0 373.5,556.2 373.5,551.8"/><polygon points="224.0,569.0 224.2,563.1 228.2,564.9"/><polygon points="266.0,595.0 268.7,589.7 271.6,593.0"/><polygon points="280.0,655.0 275.2,658.5 274.1,654.2"/><polygon points="281.0,680.0 276.6,683.9 275.1,679.8"/><polygon points="328.0,676.0 325.3,681.3 322.4,678.0"/><polygon points="342.0,683.0 338.1,687.5 336.1,683.5"/><polygon points="341.0,709.0 340.2,714.9 336.4,712.7"/><polygon points="416.0,721.0 412.7,725.9 410.2,722.3"/><polygon points="463.0,744.0 457.7,746.7 457.3,742.3"/><polygon points="243.0,840.0 243.6,845.9 239.4,844.7"/><polygon points="275.0,861.0 271.8,866.0 269.2,862.4"/><polygon points="578.0,822.0 578.0,827.9 573.9,826.3"/><polygon points="610.0,853.0 611.3,858.8 607.0,858.1"/><polygon points="690.0,847.0 690.2,841.1 694.2,842.8"/><polygon points="732.0,865.0 734.4,859.6 737.5,862.8"/><polygon points="468.0,861.0 470.2,866.5 465.8,866.5"/><polygon points="503.0,879.0 498.7,883.1 497.1,879.0"/><polygon points="578.0,906.0 583.8,904.6 583.1,909.0"/><polygon points="583.0,930.0 587.0,925.6 588.9,929.6"/></g><g stroke="#111" stroke-width="1.5" fill="#fff"><circle cx="429" cy="120" r="10.7"/><circle cx="308" cy="175" r="10.7"/><circle cx="343" cy="197" r="10.7"/><circle cx="377" cy="216" r="10.7"/><circle cx="529" cy="116" r="10.7"/><circle cx="546" cy="172" r="10.7"/><circle cx="639" cy="194" r="10.7"/><circle cx="664" cy="171" r="10.7"/><circle cx="725" cy="132" r="10.7"/><circle cx="748" cy="110" r="10.7"/><circle cx="785" cy="135" r="10.7"/><circle cx="809" cy="135" r="10.7"/><circle cx="792" cy="223" r="10.7"/><circle cx="680" cy="235" r="10.7"/><circle cx="716" cy="266" r="10.7"/><circle cx="589" cy="214" r="10.7"/><circle cx="625" cy="234" r="10.7"/><circle cx="668" cy="256" r="10.7"/><circle cx="597" cy="340" r="10.7"/><circle cx="763" cy="311" r="10.7"/><circle cx="240" cy="268" r="10.7"/><circle cx="366" cy="341" r="10.7"/><circle cx="395" cy="451" r="10.7"/><circle cx="418" cy="473" r="10.7"/><circle cx="487" cy="410" r="10.7"/><circle cx="511" cy="414" r="10.7"/><circle cx="551" cy="365" r="10.7"/><circle cx="586" cy="383" r="10.7"/><circle cx="623" cy="403" r="10.7"/><circle cx="549" cy="444" r="10.7"/><circle cx="631" cy="490" r="10.7"/><circle cx="749" cy="501" r="10.7"/><circle cx="559" cy="548" r="10.7"/><circle cx="610" cy="532" r="10.7"/><circle cx="502" cy="586" r="10.7"/><circle cx="558" cy="616" r="10.7"/><circle cx="602" cy="560" r="10.7"/><circle cx="632" cy="551" r="10.7"/><circle cx="635" cy="666" r="10.7"/><circle cx="749" cy="576" r="10.7"/><circle cx="683" cy="616" r="10.7"/><circle cx="753" cy="650" r="10.7"/><circle cx="780" cy="636" r="10.7"/><circle cx="700" cy="699" r="10.7"/><circle cx="463" cy="575" r="10.7"/><circle cx="454" cy="623" r="10.7"/><circle cx="492" cy="623" r="10.7"/><circle cx="335" cy="554" r="10.7"/><circle cx="240" cy="533" r="10.7"/><circle cx="299" cy="566" r="10.7"/><circle cx="222" cy="670" r="10.7"/><circle cx="256" cy="689" r="10.7"/><circle cx="289" cy="710" r="10.7"/><circle cx="329" cy="730" r="10.7"/><circle cx="369" cy="753" r="10.7"/><circle cx="227" cy="895" r="10.7"/><circle cx="563" cy="860" r="10.7"/><circle cx="605" cy="884" r="10.7"/><circle cx="704" cy="815" r="10.7"/><circle cx="757" cy="841" r="10.7"/><circle cx="468" cy="893" r="10.7"/><circle cx="620" cy="912" r="10.7"/></g><g class="lbl" fill="#111"><text class="c" transform="translate(429,124.8) scale(0.68,1)">16</text><text class="c" transform="translate(308,179.8) scale(0.68,1)">18</text><text class="c" transform="translate(343,201.8) scale(0.68,1)">17</text><text class="c" transform="translate(377,220.8) scale(0.68,1)">20</text><text class="w" transform="translate(529,120.6) scale(0.92,1)">22</text><text class="w" transform="translate(546,176.6) scale(0.92,1)">65</text><text class="w" transform="translate(639,198.6) scale(0.92,1)">64</text><text class="w" transform="translate(664,175.6) scale(0.92,1)">63</text><text class="r" transform="translate(725,136.5)">2</text><text class="r" transform="translate(748,114.5)">68</text><text class="c" transform="translate(785,139.8) scale(0.68,1)">1</text><text class="c" transform="translate(809,139.8) scale(0.68,1)">1A</text><text class="r" transform="translate(792,227.5)">69</text><text class="c" transform="translate(680,239.8) scale(0.68,1)">66</text><text class="c" transform="translate(716,270.8) scale(0.68,1)">64</text><text class="c" transform="translate(589,218.8) scale(0.68,1)">20</text><text class="c" transform="translate(625,238.8) scale(0.68,1)">16</text><text class="c" transform="translate(668,260.8) scale(0.68,1)">18</text><text class="c" transform="translate(597,344.8) scale(0.68,1)">17</text><text class="b" transform="translate(763,315.7) scale(0.76,1)">23</text><text class="c" transform="translate(240,272.8) scale(0.68,1)">26</text><text class="c" transform="translate(366,345.8) scale(0.68,1)">27</text><text class="r" transform="translate(395,455.5)">52</text><text class="r" transform="translate(418,477.5)">53</text><text class="r" transform="translate(487,414.5)">48</text><text class="r" transform="translate(511,418.5)">50</text><text class="c" transform="translate(551,369.8) scale(0.68,1)">4</text><text class="c" transform="translate(586,387.8) scale(0.68,1)">6</text><text class="c" transform="translate(623,407.8) scale(0.68,1)">8</text><text class="c" transform="translate(549,448.8) scale(0.68,1)">5</text><text class="c" transform="translate(631,494.8) scale(0.68,1)">3</text><text class="r" transform="translate(749,505.5)">70</text><text class="r" transform="translate(559,552.5)">24</text><text class="r" transform="translate(610,536.5)">51</text><text class="c" transform="translate(502,590.8) scale(0.68,1)">11</text><text class="c" transform="translate(558,620.8) scale(0.68,1)">14</text><text class="r" transform="translate(602,564.5)">57</text><text class="c" transform="translate(632,555.8) scale(0.68,1)">25</text><text class="c" transform="translate(635,670.8) scale(0.68,1)">14</text><text class="r" transform="translate(749,580.5)">71</text><text class="r" transform="translate(683,620.5)">72</text><text class="c" transform="translate(753,654.8) scale(0.68,1)">9</text><text class="c" transform="translate(780,640.8) scale(0.68,1)">10</text><text class="c" transform="translate(700,703.8) scale(0.68,1)">12</text><text class="r" transform="translate(463,579.5)">44</text><text class="c" transform="translate(454,627.8) scale(0.68,1)">47</text><text class="c" transform="translate(492,627.8) scale(0.68,1)">45</text><text class="c" transform="translate(335,558.8) scale(0.68,1)">46</text><text class="c" transform="translate(240,537.8) scale(0.68,1)">31</text><text class="c" transform="translate(299,570.8) scale(0.68,1)">33</text><text class="c" transform="translate(222,674.8) scale(0.68,1)">35</text><text class="c" transform="translate(256,693.8) scale(0.68,1)">37</text><text class="r" transform="translate(289,714.5)">40</text><text class="c" transform="translate(329,734.8) scale(0.68,1)">39</text><text class="c" transform="translate(369,757.8) scale(0.68,1)">38</text><text class="r" transform="translate(227,899.5)">60</text><text class="r" transform="translate(563,864.5)">41</text><text class="r" transform="translate(605,888.5)">35</text><text class="c" transform="translate(704,819.8) scale(0.68,1)">34</text><text class="c" transform="translate(757,845.8) scale(0.68,1)">31</text><text class="r" transform="translate(468,897.5)">55</text><text class="r" transform="translate(620,916.5)">61</text></g>
</svg>
</body></html>
